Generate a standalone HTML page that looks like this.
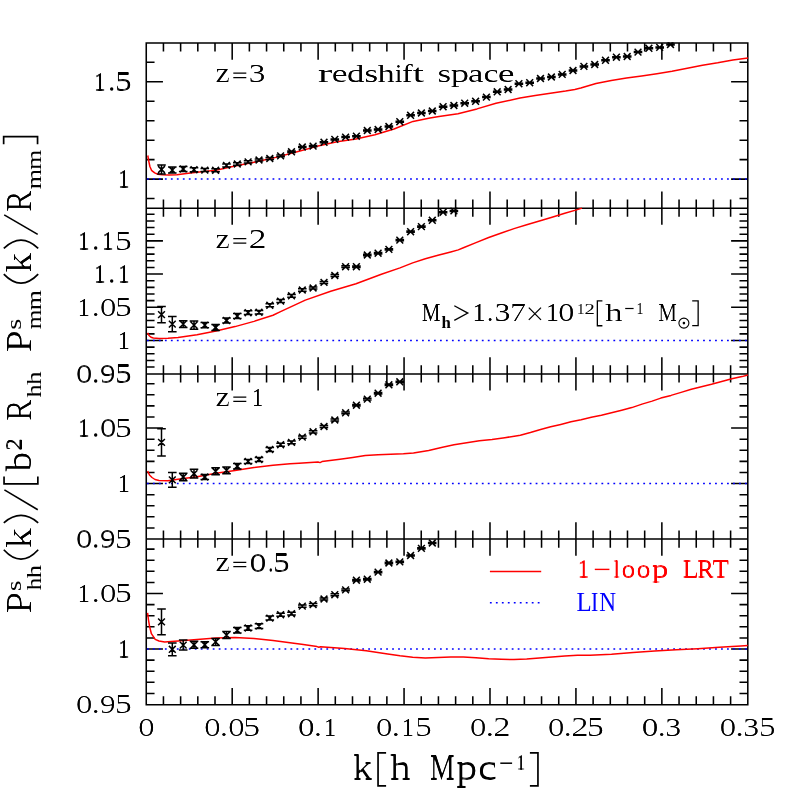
<!DOCTYPE html>
<html><head><meta charset="utf-8"><title>chart</title>
<style>html,body{margin:0;padding:0;background:#fff}svg{display:block;will-change:transform}</style>
</head><body>
<svg width="789" height="789" viewBox="0 0 789 789">
<rect x="0" y="0" width="789" height="789" fill="#fff"/>
<path d="M146.25 198.57h8.30M747.80 198.57h-8.30M146.25 179.10h16.70M747.80 179.10h-16.70M146.25 159.63h8.30M747.80 159.63h-8.30M146.25 140.16h8.30M747.80 140.16h-8.30M146.25 120.69h8.30M747.80 120.69h-8.30M146.25 101.22h8.30M747.80 101.22h-8.30M146.25 81.75h16.70M747.80 81.75h-16.70M146.25 62.28h8.30M747.80 62.28h-8.30M146.25 367.07h8.30M747.80 367.07h-8.30M146.25 360.43h8.30M747.80 360.43h-8.30M146.25 353.79h8.30M747.80 353.79h-8.30M146.25 347.14h8.30M747.80 347.14h-8.30M146.25 340.50h16.70M747.80 340.50h-16.70M146.25 333.86h8.30M747.80 333.86h-8.30M146.25 327.21h8.30M747.80 327.21h-8.30M146.25 320.57h8.30M747.80 320.57h-8.30M146.25 313.93h8.30M747.80 313.93h-8.30M146.25 307.28h16.70M747.80 307.28h-16.70M146.25 300.64h8.30M747.80 300.64h-8.30M146.25 294.00h8.30M747.80 294.00h-8.30M146.25 287.36h8.30M747.80 287.36h-8.30M146.25 280.71h8.30M747.80 280.71h-8.30M146.25 274.07h16.70M747.80 274.07h-16.70M146.25 267.43h8.30M747.80 267.43h-8.30M146.25 260.78h8.30M747.80 260.78h-8.30M146.25 254.14h8.30M747.80 254.14h-8.30M146.25 247.50h8.30M747.80 247.50h-8.30M146.25 240.85h16.70M747.80 240.85h-16.70M146.25 234.21h8.30M747.80 234.21h-8.30M146.25 227.57h8.30M747.80 227.57h-8.30M146.25 220.93h8.30M747.80 220.93h-8.30M146.25 214.28h8.30M747.80 214.28h-8.30M146.25 527.93h8.30M747.80 527.93h-8.30M146.25 516.84h8.30M747.80 516.84h-8.30M146.25 505.74h8.30M747.80 505.74h-8.30M146.25 494.65h8.30M747.80 494.65h-8.30M146.25 483.55h16.70M747.80 483.55h-16.70M146.25 472.45h8.30M747.80 472.45h-8.30M146.25 461.36h8.30M747.80 461.36h-8.30M146.25 450.26h8.30M747.80 450.26h-8.30M146.25 439.17h8.30M747.80 439.17h-8.30M146.25 428.07h16.70M747.80 428.07h-16.70M146.25 416.97h8.30M747.80 416.97h-8.30M146.25 405.88h8.30M747.80 405.88h-8.30M146.25 394.78h8.30M747.80 394.78h-8.30M146.25 383.69h8.30M747.80 383.69h-8.30M146.25 693.40h8.30M747.80 693.40h-8.30M146.25 682.30h8.30M747.80 682.30h-8.30M146.25 671.20h8.30M747.80 671.20h-8.30M146.25 660.10h8.30M747.80 660.10h-8.30M146.25 649.00h16.70M747.80 649.00h-16.70M146.25 637.90h8.30M747.80 637.90h-8.30M146.25 626.80h8.30M747.80 626.80h-8.30M146.25 615.70h8.30M747.80 615.70h-8.30M146.25 604.60h8.30M747.80 604.60h-8.30M146.25 593.50h16.70M747.80 593.50h-16.70M146.25 582.40h8.30M747.80 582.40h-8.30M146.25 571.30h8.30M747.80 571.30h-8.30M146.25 560.20h8.30M747.80 560.20h-8.30M146.25 549.10h8.30M747.80 549.10h-8.30M163.44 42.95v8.60M163.44 199.55v17.20M163.44 365.30v17.20M163.44 530.45v17.20M163.44 704.80v-8.60M180.62 42.95v8.60M180.62 199.55v17.20M180.62 365.30v17.20M180.62 530.45v17.20M180.62 704.80v-8.60M197.81 42.95v8.60M197.81 199.55v17.20M197.81 365.30v17.20M197.81 530.45v17.20M197.81 704.80v-8.60M215.00 42.95v8.60M215.00 199.55v17.20M215.00 365.30v17.20M215.00 530.45v17.20M215.00 704.80v-8.60M232.19 42.95v16.70M232.19 191.45v33.40M232.19 357.20v33.40M232.19 522.35v33.40M232.19 704.80v-16.70M249.37 42.95v8.60M249.37 199.55v17.20M249.37 365.30v17.20M249.37 530.45v17.20M249.37 704.80v-8.60M266.56 42.95v8.60M266.56 199.55v17.20M266.56 365.30v17.20M266.56 530.45v17.20M266.56 704.80v-8.60M283.75 42.95v8.60M283.75 199.55v17.20M283.75 365.30v17.20M283.75 530.45v17.20M283.75 704.80v-8.60M300.93 42.95v8.60M300.93 199.55v17.20M300.93 365.30v17.20M300.93 530.45v17.20M300.93 704.80v-8.60M318.12 42.95v16.70M318.12 191.45v33.40M318.12 357.20v33.40M318.12 522.35v33.40M318.12 704.80v-16.70M335.31 42.95v8.60M335.31 199.55v17.20M335.31 365.30v17.20M335.31 530.45v17.20M335.31 704.80v-8.60M352.50 42.95v8.60M352.50 199.55v17.20M352.50 365.30v17.20M352.50 530.45v17.20M352.50 704.80v-8.60M369.68 42.95v8.60M369.68 199.55v17.20M369.68 365.30v17.20M369.68 530.45v17.20M369.68 704.80v-8.60M386.87 42.95v8.60M386.87 199.55v17.20M386.87 365.30v17.20M386.87 530.45v17.20M386.87 704.80v-8.60M404.06 42.95v16.70M404.06 191.45v33.40M404.06 357.20v33.40M404.06 522.35v33.40M404.06 704.80v-16.70M421.24 42.95v8.60M421.24 199.55v17.20M421.24 365.30v17.20M421.24 530.45v17.20M421.24 704.80v-8.60M438.43 42.95v8.60M438.43 199.55v17.20M438.43 365.30v17.20M438.43 530.45v17.20M438.43 704.80v-8.60M455.62 42.95v8.60M455.62 199.55v17.20M455.62 365.30v17.20M455.62 530.45v17.20M455.62 704.80v-8.60M472.81 42.95v8.60M472.81 199.55v17.20M472.81 365.30v17.20M472.81 530.45v17.20M472.81 704.80v-8.60M489.99 42.95v16.70M489.99 191.45v33.40M489.99 357.20v33.40M489.99 522.35v33.40M489.99 704.80v-16.70M507.18 42.95v8.60M507.18 199.55v17.20M507.18 365.30v17.20M507.18 530.45v17.20M507.18 704.80v-8.60M524.37 42.95v8.60M524.37 199.55v17.20M524.37 365.30v17.20M524.37 530.45v17.20M524.37 704.80v-8.60M541.55 42.95v8.60M541.55 199.55v17.20M541.55 365.30v17.20M541.55 530.45v17.20M541.55 704.80v-8.60M558.74 42.95v8.60M558.74 199.55v17.20M558.74 365.30v17.20M558.74 530.45v17.20M558.74 704.80v-8.60M575.93 42.95v16.70M575.93 191.45v33.40M575.93 357.20v33.40M575.93 522.35v33.40M575.93 704.80v-16.70M593.12 42.95v8.60M593.12 199.55v17.20M593.12 365.30v17.20M593.12 530.45v17.20M593.12 704.80v-8.60M610.30 42.95v8.60M610.30 199.55v17.20M610.30 365.30v17.20M610.30 530.45v17.20M610.30 704.80v-8.60M627.49 42.95v8.60M627.49 199.55v17.20M627.49 365.30v17.20M627.49 530.45v17.20M627.49 704.80v-8.60M644.68 42.95v8.60M644.68 199.55v17.20M644.68 365.30v17.20M644.68 530.45v17.20M644.68 704.80v-8.60M661.86 42.95v16.70M661.86 191.45v33.40M661.86 357.20v33.40M661.86 522.35v33.40M661.86 704.80v-16.70M679.05 42.95v8.60M679.05 199.55v17.20M679.05 365.30v17.20M679.05 530.45v17.20M679.05 704.80v-8.60M696.24 42.95v8.60M696.24 199.55v17.20M696.24 365.30v17.20M696.24 530.45v17.20M696.24 704.80v-8.60M713.43 42.95v8.60M713.43 199.55v17.20M713.43 365.30v17.20M713.43 530.45v17.20M713.43 704.80v-8.60M730.61 42.95v8.60M730.61 199.55v17.20M730.61 365.30v17.20M730.61 530.45v17.20M730.61 704.80v-8.60" fill="none" stroke="#000" stroke-width="1.55"/>
<path d="M146.25 42.95H747.80V704.80H146.25Z M146.25 208.15H747.80 M146.25 373.90H747.80 M146.25 539.05H747.80" fill="none" stroke="#000" stroke-width="1.55"/>
<g>
<line x1="146.25" y1="179.10" x2="747.80" y2="179.10" stroke="#0000ff" stroke-width="1.5" stroke-dasharray="1.8 4.18" stroke-dashoffset="-0.7"/>
<path d="M147.8 155.5 L148.7 160.8 L149.9 166.5 L151.5 170.3 L154.7 172.9 L157.8 174.2 L162.3 174.8 L168.6 175.1 L176.9 174.8 L186.4 173.5 L197.0 172.2 L216.0 170.3 L235.0 166.1 L254.0 162.3 L273.0 158.1 L299.0 151.2 L318.0 146.1 L337.0 141.7 L356.0 139.0 L375.0 134.7 L394.0 129.0 L413.0 121.4 L430.0 118.1 L439.0 116.5 L458.0 113.7 L477.0 108.9 L496.0 103.2 L520.0 98.1 L535.2 95.6 L550.4 93.2 L565.6 91.1 L574.8 89.5 L580.8 88.0 L596.0 83.5 L611.3 80.4 L626.5 78.0 L641.7 75.9 L656.9 73.7 L672.0 71.3 L687.3 68.3 L702.5 65.2 L717.7 62.8 L732.9 60.0 L748.0 58.0" fill="none" stroke="#ff0000" stroke-width="1.5" stroke-linejoin="round"/>
<clipPath id="p0"><rect x="146.25" y="42.25" width="601.55" height="166.60"/></clipPath>
<path d="M158.1 166.1l6.8 6.8M158.1 172.9l6.8 -6.8M161.5 164.9V174.1M157.2 164.9h8.6M157.2 174.1h8.6M168.9 166.7l6.8 6.8M168.9 173.5l6.8 -6.8M172.3 167.1V173.1M168.0 167.1h8.6M168.0 173.1h8.6M179.8 165.6l6.8 6.8M179.8 172.4l6.8 -6.8M183.2 166.5V171.5M178.9 166.5h8.6M178.9 171.5h8.6M190.6 166.3l6.8 6.8M190.6 173.1l6.8 -6.8M194.0 167.7V171.7M189.7 167.7h8.6M189.7 171.7h8.6M201.4 166.7l6.8 6.8M201.4 173.5l6.8 -6.8M204.8 168.6V171.6M200.5 168.6h8.6M200.5 171.6h8.6M212.2 166.9l6.8 6.8M212.2 173.7l6.8 -6.8M215.7 168.8V171.8M211.3 168.8h8.6M211.3 171.8h8.6M223.1 162.0l6.8 6.8M223.1 168.8l6.8 -6.8M226.5 163.9V166.9M222.2 163.9h8.6M222.2 166.9h8.6M233.9 160.6l6.8 6.8M233.9 167.4l6.8 -6.8M237.3 162.7V165.3M233.0 162.7h8.6M233.0 165.3h8.6M244.7 158.5l6.8 6.8M244.7 165.3l6.8 -6.8M248.1 160.8V163.0M243.8 160.8h8.6M243.8 163.0h8.6M255.6 156.6l6.8 6.8M255.6 163.4l6.8 -6.8M259.0 159.0V161.0M254.7 159.0h8.6M254.7 161.0h8.6M266.4 155.1l6.8 6.8M266.4 161.9l6.8 -6.8M269.8 157.6V159.4M265.5 157.6h8.6M265.5 159.4h8.6M277.2 152.5l6.8 6.8M277.2 159.3l6.8 -6.8M280.6 155.1V156.7M276.3 155.1h8.6M276.3 156.7h8.6M288.1 148.4l6.8 6.8M288.1 155.2l6.8 -6.8M291.5 151.1V152.5M287.2 151.1h8.6M287.2 152.5h8.6M298.9 143.6l6.8 6.8M298.9 150.4l6.8 -6.8M302.3 146.4V147.6M298.0 146.4h8.6M298.0 147.6h8.6M309.7 142.7l6.8 6.8M309.7 149.5l6.8 -6.8M313.1 145.5V146.7M308.8 145.5h8.6M308.8 146.7h8.6M320.6 138.9l6.8 6.8M320.6 145.7l6.8 -6.8M323.9 141.8V142.8M319.6 141.8h8.6M319.6 142.8h8.6M331.4 136.0l6.8 6.8M331.4 142.8l6.8 -6.8M334.8 138.9V139.9M330.5 138.9h8.6M330.5 139.9h8.6M342.2 133.7l6.8 6.8M342.2 140.5l6.8 -6.8M345.6 136.6V137.6M341.3 136.6h8.6M341.3 137.6h8.6M353.0 132.8l6.8 6.8M353.0 139.6l6.8 -6.8M356.4 135.7V136.7M352.1 135.7h8.6M352.1 136.7h8.6M363.9 127.1l6.8 6.8M363.9 133.9l6.8 -6.8M367.3 130.0V131.0M363.0 130.0h8.6M363.0 131.0h8.6M374.7 126.1l6.8 6.8M374.7 132.9l6.8 -6.8M378.1 129.0V130.0M373.8 129.0h8.6M373.8 130.0h8.6M385.5 123.1l6.8 6.8M385.5 129.9l6.8 -6.8M388.9 126.0V127.0M384.6 126.0h8.6M384.6 127.0h8.6M396.4 118.3l6.8 6.8M396.4 125.1l6.8 -6.8M399.8 121.2V122.2M395.5 121.2h8.6M395.5 122.2h8.6M407.2 111.9l6.8 6.8M407.2 118.7l6.8 -6.8M410.6 114.8V115.8M406.3 114.8h8.6M406.3 115.8h8.6M418.0 109.6l6.8 6.8M418.0 116.4l6.8 -6.8M421.4 112.5V113.5M417.1 112.5h8.6M417.1 113.5h8.6M428.9 107.6l6.8 6.8M428.9 114.4l6.8 -6.8M432.2 110.5V111.5M427.9 110.5h8.6M427.9 111.5h8.6M439.7 103.3l6.8 6.8M439.7 110.1l6.8 -6.8M443.1 106.2V107.2M438.8 106.2h8.6M438.8 107.2h8.6M450.5 102.1l6.8 6.8M450.5 108.9l6.8 -6.8M453.9 105.0V106.0M449.6 105.0h8.6M449.6 106.0h8.6M461.3 99.8l6.8 6.8M461.3 106.6l6.8 -6.8M464.7 102.7V103.7M460.4 102.7h8.6M460.4 103.7h8.6M472.2 97.9l6.8 6.8M472.2 104.7l6.8 -6.8M475.6 100.8V101.8M471.3 100.8h8.6M471.3 101.8h8.6M483.0 93.7l6.8 6.8M483.0 100.5l6.8 -6.8M486.4 96.6V97.6M482.1 96.6h8.6M482.1 97.6h8.6M493.8 88.4l6.8 6.8M493.8 95.2l6.8 -6.8M497.2 91.3V92.3M492.9 91.3h8.6M492.9 92.3h8.6M504.7 86.1l6.8 6.8M504.7 92.9l6.8 -6.8M508.1 89.0V90.0M503.8 89.0h8.6M503.8 90.0h8.6M515.5 80.3l6.8 6.8M515.5 87.1l6.8 -6.8M518.9 83.2V84.2M514.6 83.2h8.6M514.6 84.2h8.6M526.3 79.3l6.8 6.8M526.3 86.1l6.8 -6.8M529.7 82.2V83.2M525.4 82.2h8.6M525.4 83.2h8.6M537.1 75.1l6.8 6.8M537.1 81.9l6.8 -6.8M540.5 78.0V79.0M536.2 78.0h8.6M536.2 79.0h8.6M548.0 73.6l6.8 6.8M548.0 80.4l6.8 -6.8M551.4 76.5V77.5M547.1 76.5h8.6M547.1 77.5h8.6M558.8 71.0l6.8 6.8M558.8 77.8l6.8 -6.8M562.2 73.9V74.9M557.9 73.9h8.6M557.9 74.9h8.6M569.6 67.1l6.8 6.8M569.6 73.9l6.8 -6.8M573.0 70.0V71.0M568.7 70.0h8.6M568.7 71.0h8.6M580.5 63.0l6.8 6.8M580.5 69.8l6.8 -6.8M583.9 65.9V66.9M579.6 65.9h8.6M579.6 66.9h8.6M591.3 61.1l6.8 6.8M591.3 67.9l6.8 -6.8M594.7 64.0V65.0M590.4 64.0h8.6M590.4 65.0h8.6M602.1 56.9l6.8 6.8M602.1 63.7l6.8 -6.8M605.5 59.8V60.8M601.2 59.8h8.6M601.2 60.8h8.6M613.0 53.8l6.8 6.8M613.0 60.6l6.8 -6.8M616.4 56.7V57.7M612.1 56.7h8.6M612.1 57.7h8.6M623.8 53.1l6.8 6.8M623.8 59.9l6.8 -6.8M627.2 56.0V57.0M622.9 56.0h8.6M622.9 57.0h8.6M634.6 48.7l6.8 6.8M634.6 55.5l6.8 -6.8M638.0 51.6V52.6M633.7 51.6h8.6M633.7 52.6h8.6M645.5 44.9l6.8 6.8M645.5 51.7l6.8 -6.8M648.9 47.8V48.8M644.6 47.8h8.6M644.6 48.8h8.6M656.3 44.0l6.8 6.8M656.3 50.8l6.8 -6.8M659.7 46.9V47.9M655.4 46.9h8.6M655.4 47.9h8.6M667.1 41.1l6.8 6.8M667.1 47.9l6.8 -6.8M670.5 44.0V45.0M666.2 44.0h8.6M666.2 45.0h8.6" fill="none" stroke="#000" stroke-width="1.5" clip-path="url(#p0)"/>
</g>
<g>
<line x1="146.25" y1="340.50" x2="747.80" y2="340.50" stroke="#0000ff" stroke-width="1.5" stroke-dasharray="1.8 4.18" stroke-dashoffset="-0.7"/>
<path d="M147.6 332.9 L149.0 335.5 L151.0 337.2 L153.3 338.0 L159.0 338.6 L168.0 338.3 L178.0 337.4 L197.0 334.8 L216.0 331.0 L235.0 326.6 L254.0 321.4 L273.0 315.2 L280.0 311.9 L305.3 300.1 L330.7 291.3 L356.0 283.7 L381.4 274.3 L400.0 267.9 L412.7 262.9 L425.3 258.8 L438.0 255.3 L450.7 252.0 L458.3 249.9 L463.4 247.7 L476.0 242.6 L488.7 237.5 L501.4 233.0 L514.0 228.6 L526.7 224.8 L539.4 221.0 L552.0 217.2 L564.8 213.2 L577.4 209.6 L582.0 208.1" fill="none" stroke="#ff0000" stroke-width="1.5" stroke-linejoin="round"/>
<clipPath id="p1"><rect x="146.25" y="207.45" width="601.55" height="167.15"/></clipPath>
<path d="M158.1 311.2l6.8 6.8M158.1 318.0l6.8 -6.8M161.5 306.4V322.8M157.2 306.4h8.6M157.2 322.8h8.6M168.9 320.7l6.8 6.8M168.9 327.5l6.8 -6.8M172.3 316.5V331.7M168.0 316.5h8.6M168.0 331.7h8.6M179.8 320.7l6.8 6.8M179.8 327.5l6.8 -6.8M183.2 320.7V327.5M178.9 320.7h8.6M178.9 327.5h8.6M190.6 321.7l6.8 6.8M190.6 328.5l6.8 -6.8M194.0 320.9V329.3M189.7 320.9h8.6M189.7 329.3h8.6M201.4 321.7l6.8 6.8M201.4 328.5l6.8 -6.8M204.8 322.4V327.8M200.5 322.4h8.6M200.5 327.8h8.6M212.2 324.1l6.8 6.8M212.2 330.9l6.8 -6.8M215.7 324.5V330.5M211.3 324.5h8.6M211.3 330.5h8.6M223.1 317.1l6.8 6.8M223.1 323.9l6.8 -6.8M226.5 318.0V323.0M222.2 318.0h8.6M222.2 323.0h8.6M233.9 312.7l6.8 6.8M233.9 319.5l6.8 -6.8M237.3 313.6V318.6M233.0 313.6h8.6M233.0 318.6h8.6M244.7 309.3l6.8 6.8M244.7 316.1l6.8 -6.8M248.1 310.8V314.6M243.8 310.8h8.6M243.8 314.6h8.6M255.6 308.9l6.8 6.8M255.6 315.7l6.8 -6.8M259.0 310.6V314.0M254.7 310.6h8.6M254.7 314.0h8.6M266.4 301.9l6.8 6.8M266.4 308.7l6.8 -6.8M269.8 303.8V306.8M265.5 303.8h8.6M265.5 306.8h8.6M277.2 297.7l6.8 6.8M277.2 304.5l6.8 -6.8M280.6 299.6V302.6M276.3 299.6h8.6M276.3 302.6h8.6M288.1 292.4l6.8 6.8M288.1 299.2l6.8 -6.8M291.5 294.4V297.2M287.2 294.4h8.6M287.2 297.2h8.6M298.9 286.6l6.8 6.8M298.9 293.4l6.8 -6.8M302.3 288.8V291.2M298.0 288.8h8.6M298.0 291.2h8.6M309.7 284.6l6.8 6.8M309.7 291.4l6.8 -6.8M313.1 286.9V289.1M308.8 286.9h8.6M308.8 289.1h8.6M320.6 279.0l6.8 6.8M320.6 285.8l6.8 -6.8M323.9 281.4V283.4M319.6 281.4h8.6M319.6 283.4h8.6M331.4 272.1l6.8 6.8M331.4 278.9l6.8 -6.8M334.8 274.5V276.5M330.5 274.5h8.6M330.5 276.5h8.6M342.2 263.3l6.8 6.8M342.2 270.1l6.8 -6.8M345.6 265.8V267.6M341.3 265.8h8.6M341.3 267.6h8.6M353.0 263.3l6.8 6.8M353.0 270.1l6.8 -6.8M356.4 265.9V267.5M352.1 265.9h8.6M352.1 267.5h8.6M363.9 251.6l6.8 6.8M363.9 258.4l6.8 -6.8M367.3 254.2V255.8M363.0 254.2h8.6M363.0 255.8h8.6M374.7 249.8l6.8 6.8M374.7 256.6l6.8 -6.8M378.1 252.5V253.9M373.8 252.5h8.6M373.8 253.9h8.6M385.5 246.0l6.8 6.8M385.5 252.8l6.8 -6.8M388.9 248.7V250.1M384.6 248.7h8.6M384.6 250.1h8.6M396.4 236.7l6.8 6.8M396.4 243.5l6.8 -6.8M399.8 239.5V240.7M395.5 239.5h8.6M395.5 240.7h8.6M407.2 228.3l6.8 6.8M407.2 235.1l6.8 -6.8M410.6 231.1V232.3M406.3 231.1h8.6M406.3 232.3h8.6M418.0 223.2l6.8 6.8M418.0 230.0l6.8 -6.8M421.4 226.0V227.2M417.1 226.0h8.6M417.1 227.2h8.6M428.9 216.9l6.8 6.8M428.9 223.7l6.8 -6.8M432.2 219.8V220.8M427.9 219.8h8.6M427.9 220.8h8.6M439.7 208.8l6.8 6.8M439.7 215.6l6.8 -6.8M443.1 211.7V212.7M438.8 211.7h8.6M438.8 212.7h8.6M450.5 207.5l6.8 6.8M450.5 214.3l6.8 -6.8M453.9 210.4V211.4M449.6 210.4h8.6M449.6 211.4h8.6" fill="none" stroke="#000" stroke-width="1.5" clip-path="url(#p1)"/>
</g>
<g>
<line x1="146.25" y1="483.55" x2="747.80" y2="483.55" stroke="#0000ff" stroke-width="1.5" stroke-dasharray="1.8 4.18" stroke-dashoffset="-0.7"/>
<path d="M147.6 471.0 L149.5 475.0 L152.0 477.5 L155.0 479.5 L159.0 480.5 L168.0 480.8 L178.0 479.3 L197.0 476.7 L216.0 473.2 L235.0 470.4 L254.0 467.5 L273.0 465.2 L290.0 463.7 L299.0 463.2 L318.0 462.0 L320.0 462.6 L322.0 461.6 L340.0 459.3 L352.7 457.5 L365.3 455.5 L378.0 454.7 L390.7 454.2 L403.4 453.7 L413.5 453.0 L428.7 450.4 L441.4 447.4 L454.0 444.8 L466.7 442.8 L479.4 440.8 L492.0 439.5 L504.8 437.7 L517.4 435.7 L520.3 435.2 L530.4 432.5 L540.6 429.5 L550.7 426.8 L560.8 424.4 L571.0 421.8 L581.1 419.7 L591.3 417.3 L601.4 415.3 L611.5 412.8 L621.7 410.2 L631.8 407.6 L642.0 404.1 L652.1 401.1 L660.8 398.1 L671.0 395.4 L681.1 392.4 L691.3 389.3 L701.4 386.7 L711.5 384.3 L721.7 381.6 L731.8 378.8 L742.0 376.6 L747.8 375.0" fill="none" stroke="#ff0000" stroke-width="1.5" stroke-linejoin="round"/>
<clipPath id="p2"><rect x="146.25" y="373.20" width="601.55" height="166.55"/></clipPath>
<path d="M158.1 439.0l6.8 6.8M158.1 445.8l6.8 -6.8M161.5 428.7V456.1M157.2 428.7h8.6M157.2 456.1h8.6M168.9 476.5l6.8 6.8M168.9 483.3l6.8 -6.8M172.3 472.6V487.2M168.0 472.6h8.6M168.0 487.2h8.6M179.8 473.6l6.8 6.8M179.8 480.4l6.8 -6.8M183.2 473.2V480.8M178.9 473.2h8.6M178.9 480.8h8.6M190.6 470.3l6.8 6.8M190.6 477.1l6.8 -6.8M194.0 469.3V478.1M189.7 469.3h8.6M189.7 478.1h8.6M201.4 473.6l6.8 6.8M201.4 480.4l6.8 -6.8M204.8 474.5V479.5M200.5 474.5h8.6M200.5 479.5h8.6M212.2 467.9l6.8 6.8M212.2 474.7l6.8 -6.8M215.7 467.8V474.8M211.3 467.8h8.6M211.3 474.8h8.6M223.1 467.0l6.8 6.8M223.1 473.8l6.8 -6.8M226.5 467.1V473.7M222.2 467.1h8.6M222.2 473.7h8.6M233.9 462.8l6.8 6.8M233.9 469.6l6.8 -6.8M237.3 463.4V469.0M233.0 463.4h8.6M233.0 469.0h8.6M244.7 458.0l6.8 6.8M244.7 464.8l6.8 -6.8M248.1 459.4V463.4M243.8 459.4h8.6M243.8 463.4h8.6M255.6 456.1l6.8 6.8M255.6 462.9l6.8 -6.8M259.0 457.5V461.5M254.7 457.5h8.6M254.7 461.5h8.6M266.4 446.1l6.8 6.8M266.4 452.9l6.8 -6.8M269.8 447.5V451.5M265.5 447.5h8.6M265.5 451.5h8.6M277.2 441.3l6.8 6.8M277.2 448.1l6.8 -6.8M280.6 443.2V446.2M276.3 443.2h8.6M276.3 446.2h8.6M288.1 439.0l6.8 6.8M288.1 445.8l6.8 -6.8M291.5 441.0V443.8M287.2 441.0h8.6M287.2 443.8h8.6M298.9 433.7l6.8 6.8M298.9 440.5l6.8 -6.8M302.3 435.9V438.3M298.0 435.9h8.6M298.0 438.3h8.6M309.7 428.4l6.8 6.8M309.7 435.2l6.8 -6.8M313.1 430.7V432.9M308.8 430.7h8.6M308.8 432.9h8.6M320.6 423.1l6.8 6.8M320.6 429.9l6.8 -6.8M323.9 425.5V427.5M319.6 425.5h8.6M319.6 427.5h8.6M331.4 416.6l6.8 6.8M331.4 423.4l6.8 -6.8M334.8 419.0V421.0M330.5 419.0h8.6M330.5 421.0h8.6M342.2 409.4l6.8 6.8M342.2 416.2l6.8 -6.8M345.6 411.9V413.7M341.3 411.9h8.6M341.3 413.7h8.6M353.0 401.8l6.8 6.8M353.0 408.6l6.8 -6.8M356.4 404.4V406.0M352.1 404.4h8.6M352.1 406.0h8.6M363.9 395.7l6.8 6.8M363.9 402.5l6.8 -6.8M367.3 398.3V399.9M363.0 398.3h8.6M363.0 399.9h8.6M374.7 389.8l6.8 6.8M374.7 396.6l6.8 -6.8M378.1 392.5V393.9M373.8 392.5h8.6M373.8 393.9h8.6M385.5 381.4l6.8 6.8M385.5 388.2l6.8 -6.8M388.9 384.1V385.5M384.6 384.1h8.6M384.6 385.5h8.6M396.4 378.4l6.8 6.8M396.4 385.2l6.8 -6.8M399.8 381.2V382.4M395.5 381.2h8.6M395.5 382.4h8.6" fill="none" stroke="#000" stroke-width="1.5" clip-path="url(#p2)"/>
</g>
<g>
<line x1="146.25" y1="649.00" x2="747.80" y2="649.00" stroke="#0000ff" stroke-width="1.5" stroke-dasharray="1.8 4.18" stroke-dashoffset="-0.7"/>
<path d="M147.6 612.8 L148.5 620.0 L149.5 626.1 L151.4 633.7 L155.2 639.4 L159.0 641.0 L164.7 641.9 L178.0 641.0 L197.0 639.4 L216.0 637.9 L235.0 637.5 L254.0 638.5 L273.0 640.4 L290.0 642.7 L301.5 644.2 L317.0 646.6 L318.8 647.2 L320.5 646.7 L344.6 648.6 L366.2 650.7 L387.7 654.0 L400.0 655.8 L412.7 657.3 L425.3 658.1 L438.0 657.6 L450.7 657.1 L463.4 657.1 L476.0 657.8 L488.7 658.8 L501.4 659.3 L514.0 659.6 L526.7 659.1 L539.4 658.1 L552.0 657.1 L564.8 656.0 L577.4 655.3 L590.0 655.3 L611.5 654.3 L633.1 652.6 L654.6 651.1 L676.2 649.8 L697.7 648.7 L719.3 647.3 L740.8 645.9 L747.8 645.4" fill="none" stroke="#ff0000" stroke-width="1.5" stroke-linejoin="round"/>
<clipPath id="p3"><rect x="146.25" y="538.35" width="601.55" height="167.15"/></clipPath>
<path d="M158.1 618.5l6.8 6.8M158.1 625.3l6.8 -6.8M161.5 609.1V634.7M157.2 609.1h8.6M157.2 634.7h8.6M168.9 645.9l6.8 6.8M168.9 652.7l6.8 -6.8M172.3 642.9V655.7M168.0 642.9h8.6M168.0 655.7h8.6M179.8 641.7l6.8 6.8M179.8 648.5l6.8 -6.8M183.2 640.1V650.1M178.9 640.1h8.6M178.9 650.1h8.6M190.6 641.4l6.8 6.8M190.6 648.2l6.8 -6.8M194.0 641.3V648.3M189.7 641.3h8.6M189.7 648.3h8.6M201.4 641.4l6.8 6.8M201.4 648.2l6.8 -6.8M204.8 641.8V647.8M200.5 641.8h8.6M200.5 647.8h8.6M212.2 638.5l6.8 6.8M212.2 645.3l6.8 -6.8M215.7 638.4V645.4M211.3 638.4h8.6M211.3 645.4h8.6M223.1 631.7l6.8 6.8M223.1 638.5l6.8 -6.8M226.5 631.6V638.6M222.2 631.6h8.6M222.2 638.6h8.6M233.9 626.9l6.8 6.8M233.9 633.7l6.8 -6.8M237.3 627.5V633.1M233.0 627.5h8.6M233.0 633.1h8.6M244.7 624.6l6.8 6.8M244.7 631.4l6.8 -6.8M248.1 625.7V630.3M243.8 625.7h8.6M243.8 630.3h8.6M255.6 622.7l6.8 6.8M255.6 629.5l6.8 -6.8M259.0 623.8V628.4M254.7 623.8h8.6M254.7 628.4h8.6M266.4 614.7l6.8 6.8M266.4 621.5l6.8 -6.8M269.8 616.1V620.1M265.5 616.1h8.6M265.5 620.1h8.6M277.2 611.3l6.8 6.8M277.2 618.1l6.8 -6.8M280.6 613.2V616.2M276.3 613.2h8.6M276.3 616.2h8.6M288.1 610.3l6.8 6.8M288.1 617.1l6.8 -6.8M291.5 612.3V615.1M287.2 612.3h8.6M287.2 615.1h8.6M298.9 602.7l6.8 6.8M298.9 609.5l6.8 -6.8M302.3 604.9V607.3M298.0 604.9h8.6M298.0 607.3h8.6M309.7 601.2l6.8 6.8M309.7 608.0l6.8 -6.8M313.1 603.5V605.7M308.8 603.5h8.6M308.8 605.7h8.6M320.6 595.6l6.8 6.8M320.6 602.4l6.8 -6.8M323.9 598.0V600.0M319.6 598.0h8.6M319.6 600.0h8.6M331.4 591.3l6.8 6.8M331.4 598.1l6.8 -6.8M334.8 593.7V595.7M330.5 593.7h8.6M330.5 595.7h8.6M342.2 586.5l6.8 6.8M342.2 593.3l6.8 -6.8M345.6 589.0V590.8M341.3 589.0h8.6M341.3 590.8h8.6M353.0 576.8l6.8 6.8M353.0 583.6l6.8 -6.8M356.4 579.4V581.0M352.1 579.4h8.6M352.1 581.0h8.6M363.9 575.8l6.8 6.8M363.9 582.6l6.8 -6.8M367.3 578.4V580.0M363.0 578.4h8.6M363.0 580.0h8.6M374.7 568.7l6.8 6.8M374.7 575.5l6.8 -6.8M378.1 571.4V572.8M373.8 571.4h8.6M373.8 572.8h8.6M385.5 559.6l6.8 6.8M385.5 566.4l6.8 -6.8M388.9 562.3V563.7M384.6 562.3h8.6M384.6 563.7h8.6M396.4 558.5l6.8 6.8M396.4 565.3l6.8 -6.8M399.8 561.3V562.5M395.5 561.3h8.6M395.5 562.5h8.6M407.2 552.1l6.8 6.8M407.2 558.9l6.8 -6.8M410.6 554.9V556.1M406.3 554.9h8.6M406.3 556.1h8.6M418.0 545.0l6.8 6.8M418.0 551.8l6.8 -6.8M421.4 547.8V549.0M417.1 547.8h8.6M417.1 549.0h8.6M428.9 539.6l6.8 6.8M428.9 546.4l6.8 -6.8M432.2 542.5V543.5M427.9 542.5h8.6M427.9 543.5h8.6" fill="none" stroke="#000" stroke-width="1.5" clip-path="url(#p3)"/>
</g>
<clipPath id="c1"><text transform="translate(215.52 82.20) scale(0.3267 0.2702)" font-family="Liberation Serif" font-size="100">z</text></clipPath>
<g clip-path="url(#c1)" fill="#000"><text transform="translate(215.21 82.20) scale(0.3267 0.2702)" font-family="Liberation Serif" font-size="100">z</text></g>
<path d="M233.3 73.20H246.3M233.3 77.60H246.3" stroke="#000" stroke-width="1.25"/>
<clipPath id="c2"><text transform="translate(248.98 82.40) scale(0.3389 0.2597)" font-family="Liberation Serif" font-size="100">3</text><text transform="translate(248.98 81.89) scale(0.3389 0.2597)" font-family="Liberation Serif" font-size="100">3</text></clipPath>
<g clip-path="url(#c2)" fill="#000"><text transform="translate(248.28 82.40) scale(0.3389 0.2597)" font-family="Liberation Serif" font-size="100">3</text><text transform="translate(248.28 81.89) scale(0.3389 0.2597)" font-family="Liberation Serif" font-size="100">3</text></g>
<clipPath id="c3"><text transform="translate(215.52 247.70) scale(0.3267 0.2702)" font-family="Liberation Serif" font-size="100">z</text></clipPath>
<g clip-path="url(#c3)" fill="#000"><text transform="translate(215.21 247.70) scale(0.3267 0.2702)" font-family="Liberation Serif" font-size="100">z</text></g>
<path d="M233.3 238.70H246.3M233.3 243.10H246.3" stroke="#000" stroke-width="1.25"/>
<clipPath id="c4"><text transform="translate(249.02 247.90) scale(0.3592 0.2628)" font-family="Liberation Serif" font-size="100">2</text><text transform="translate(249.02 247.70) scale(0.3592 0.2628)" font-family="Liberation Serif" font-size="100">2</text></clipPath>
<g clip-path="url(#c4)" fill="#000"><text transform="translate(248.32 247.90) scale(0.3592 0.2628)" font-family="Liberation Serif" font-size="100">2</text><text transform="translate(248.32 247.70) scale(0.3592 0.2628)" font-family="Liberation Serif" font-size="100">2</text></g>
<clipPath id="c5"><text transform="translate(215.52 406.00) scale(0.3267 0.2702)" font-family="Liberation Serif" font-size="100">z</text></clipPath>
<g clip-path="url(#c5)" fill="#000"><text transform="translate(215.21 406.00) scale(0.3267 0.2702)" font-family="Liberation Serif" font-size="100">z</text></g>
<path d="M233.3 397.00H246.3M233.3 401.40H246.3" stroke="#000" stroke-width="1.25"/>
<clipPath id="c6"><text transform="translate(252.02 406.20) scale(0.2258 0.2597)" font-family="Liberation Serif" font-size="100">1</text><text transform="translate(252.02 405.69) scale(0.2258 0.2597)" font-family="Liberation Serif" font-size="100">1</text></clipPath>
<g clip-path="url(#c6)" fill="#000"><text transform="translate(251.77 406.20) scale(0.2258 0.2597)" font-family="Liberation Serif" font-size="100">1</text><text transform="translate(251.77 405.69) scale(0.2258 0.2597)" font-family="Liberation Serif" font-size="100">1</text></g>
<clipPath id="c7"><text transform="translate(215.52 571.30) scale(0.3267 0.2702)" font-family="Liberation Serif" font-size="100">z</text></clipPath>
<g clip-path="url(#c7)" fill="#000"><text transform="translate(215.21 571.30) scale(0.3267 0.2702)" font-family="Liberation Serif" font-size="100">z</text></g>
<path d="M233.3 562.30H246.3M233.3 566.70H246.3" stroke="#000" stroke-width="1.25"/>
<clipPath id="c8"><text transform="translate(249.69 571.50) scale(0.3445 0.2597)" font-family="Liberation Serif" font-size="100">0</text><text transform="translate(249.69 570.99) scale(0.3445 0.2597)" font-family="Liberation Serif" font-size="100">0</text></clipPath>
<g clip-path="url(#c8)" fill="#000"><text transform="translate(248.99 571.50) scale(0.3445 0.2597)" font-family="Liberation Serif" font-size="100">0</text><text transform="translate(248.99 570.99) scale(0.3445 0.2597)" font-family="Liberation Serif" font-size="100">0</text></g>
<clipPath id="c9"><text transform="translate(267.93 571.50) scale(0.2539 0.2597)" font-family="Liberation Serif" font-size="100">.</text><text transform="translate(267.93 570.99) scale(0.2539 0.2597)" font-family="Liberation Serif" font-size="100">.</text></clipPath>
<g clip-path="url(#c9)" fill="#000"><text transform="translate(267.23 571.50) scale(0.2539 0.2597)" font-family="Liberation Serif" font-size="100">.</text><text transform="translate(267.23 570.99) scale(0.2539 0.2597)" font-family="Liberation Serif" font-size="100">.</text></g>
<clipPath id="c10"><text transform="translate(273.32 571.50) scale(0.3401 0.2628)" font-family="Liberation Serif" font-size="100">5</text><text transform="translate(273.32 571.30) scale(0.3401 0.2628)" font-family="Liberation Serif" font-size="100">5</text></clipPath>
<g clip-path="url(#c10)" fill="#000"><text transform="translate(272.62 571.50) scale(0.3401 0.2628)" font-family="Liberation Serif" font-size="100">5</text><text transform="translate(272.62 571.30) scale(0.3401 0.2628)" font-family="Liberation Serif" font-size="100">5</text></g>
<clipPath id="c11"><text transform="translate(317.90 82.10) scale(0.4471 0.2599)" font-family="Liberation Serif" font-size="100">r</text><text transform="translate(317.90 81.59) scale(0.4471 0.2599)" font-family="Liberation Serif" font-size="100">r</text></clipPath>
<g clip-path="url(#c11)" fill="#000"><text transform="translate(317.30 82.10) scale(0.4471 0.2599)" font-family="Liberation Serif" font-size="100">r</text><text transform="translate(317.30 81.59) scale(0.4471 0.2599)" font-family="Liberation Serif" font-size="100">r</text></g>
<clipPath id="c12"><text transform="translate(331.88 82.10) scale(0.3647 0.2599)" font-family="Liberation Serif" font-size="100">e</text><text transform="translate(331.88 81.59) scale(0.3647 0.2599)" font-family="Liberation Serif" font-size="100">e</text></clipPath>
<g clip-path="url(#c12)" fill="#000"><text transform="translate(331.28 82.10) scale(0.3647 0.2599)" font-family="Liberation Serif" font-size="100">e</text><text transform="translate(331.28 81.59) scale(0.3647 0.2599)" font-family="Liberation Serif" font-size="100">e</text></g>
<clipPath id="c13"><text transform="translate(347.24 82.10) scale(0.3498 0.2599)" font-family="Liberation Serif" font-size="100">d</text><text transform="translate(347.24 81.59) scale(0.3498 0.2599)" font-family="Liberation Serif" font-size="100">d</text></clipPath>
<g clip-path="url(#c13)" fill="#000"><text transform="translate(346.64 82.10) scale(0.3498 0.2599)" font-family="Liberation Serif" font-size="100">d</text><text transform="translate(346.64 81.59) scale(0.3498 0.2599)" font-family="Liberation Serif" font-size="100">d</text></g>
<clipPath id="c14"><text transform="translate(364.53 82.10) scale(0.3590 0.2599)" font-family="Liberation Serif" font-size="100">s</text><text transform="translate(364.53 81.59) scale(0.3590 0.2599)" font-family="Liberation Serif" font-size="100">s</text></clipPath>
<g clip-path="url(#c14)" fill="#000"><text transform="translate(363.93 82.10) scale(0.3590 0.2599)" font-family="Liberation Serif" font-size="100">s</text><text transform="translate(363.93 81.59) scale(0.3590 0.2599)" font-family="Liberation Serif" font-size="100">s</text></g>
<clipPath id="c15"><text transform="translate(377.86 82.10) scale(0.3459 0.2599)" font-family="Liberation Serif" font-size="100">h</text><text transform="translate(377.86 81.59) scale(0.3459 0.2599)" font-family="Liberation Serif" font-size="100">h</text></clipPath>
<g clip-path="url(#c15)" fill="#000"><text transform="translate(377.26 82.10) scale(0.3459 0.2599)" font-family="Liberation Serif" font-size="100">h</text><text transform="translate(377.26 81.59) scale(0.3459 0.2599)" font-family="Liberation Serif" font-size="100">h</text></g>
<clipPath id="c16"><text transform="translate(395.12 82.10) scale(0.2776 0.2599)" font-family="Liberation Serif" font-size="100">i</text><text transform="translate(395.12 81.59) scale(0.2776 0.2599)" font-family="Liberation Serif" font-size="100">i</text></clipPath>
<g clip-path="url(#c16)" fill="#000"><text transform="translate(394.52 82.10) scale(0.2776 0.2599)" font-family="Liberation Serif" font-size="100">i</text><text transform="translate(394.52 81.59) scale(0.2776 0.2599)" font-family="Liberation Serif" font-size="100">i</text></g>
<clipPath id="c17"><text transform="translate(401.98 82.10) scale(0.3309 0.2599)" font-family="Liberation Serif" font-size="100">f</text><text transform="translate(401.98 81.59) scale(0.3309 0.2599)" font-family="Liberation Serif" font-size="100">f</text></clipPath>
<g clip-path="url(#c17)" fill="#000"><text transform="translate(401.38 82.10) scale(0.3309 0.2599)" font-family="Liberation Serif" font-size="100">f</text><text transform="translate(401.38 81.59) scale(0.3309 0.2599)" font-family="Liberation Serif" font-size="100">f</text></g>
<clipPath id="c18"><text transform="translate(412.68 82.10) scale(0.4310 0.2599)" font-family="Liberation Serif" font-size="100">t</text><text transform="translate(412.68 81.59) scale(0.4310 0.2599)" font-family="Liberation Serif" font-size="100">t</text></clipPath>
<g clip-path="url(#c18)" fill="#000"><text transform="translate(412.08 82.10) scale(0.4310 0.2599)" font-family="Liberation Serif" font-size="100">t</text><text transform="translate(412.08 81.59) scale(0.4310 0.2599)" font-family="Liberation Serif" font-size="100">t</text></g>
<clipPath id="c19"><text transform="translate(437.64 82.10) scale(0.3558 0.2599)" font-family="Liberation Serif" font-size="100">s</text><text transform="translate(437.64 81.59) scale(0.3558 0.2599)" font-family="Liberation Serif" font-size="100">s</text></clipPath>
<g clip-path="url(#c19)" fill="#000"><text transform="translate(437.04 82.10) scale(0.3558 0.2599)" font-family="Liberation Serif" font-size="100">s</text><text transform="translate(437.04 81.59) scale(0.3558 0.2599)" font-family="Liberation Serif" font-size="100">s</text></g>
<clipPath id="c20"><text transform="translate(450.90 82.10) scale(0.3709 0.2599)" font-family="Liberation Serif" font-size="100">p</text><text transform="translate(450.90 81.59) scale(0.3709 0.2599)" font-family="Liberation Serif" font-size="100">p</text></clipPath>
<g clip-path="url(#c20)" fill="#000"><text transform="translate(450.30 82.10) scale(0.3709 0.2599)" font-family="Liberation Serif" font-size="100">p</text><text transform="translate(450.30 81.59) scale(0.3709 0.2599)" font-family="Liberation Serif" font-size="100">p</text></g>
<clipPath id="c21"><text transform="translate(468.28 82.10) scale(0.3468 0.2599)" font-family="Liberation Serif" font-size="100">a</text><text transform="translate(468.28 81.59) scale(0.3468 0.2599)" font-family="Liberation Serif" font-size="100">a</text></clipPath>
<g clip-path="url(#c21)" fill="#000"><text transform="translate(467.68 82.10) scale(0.3468 0.2599)" font-family="Liberation Serif" font-size="100">a</text><text transform="translate(467.68 81.59) scale(0.3468 0.2599)" font-family="Liberation Serif" font-size="100">a</text></g>
<clipPath id="c22"><text transform="translate(483.81 82.10) scale(0.3387 0.2599)" font-family="Liberation Serif" font-size="100">c</text><text transform="translate(483.81 81.59) scale(0.3387 0.2599)" font-family="Liberation Serif" font-size="100">c</text></clipPath>
<g clip-path="url(#c22)" fill="#000"><text transform="translate(483.21 82.10) scale(0.3387 0.2599)" font-family="Liberation Serif" font-size="100">c</text><text transform="translate(483.21 81.59) scale(0.3387 0.2599)" font-family="Liberation Serif" font-size="100">c</text></g>
<clipPath id="c23"><text transform="translate(498.01 82.10) scale(0.3810 0.2599)" font-family="Liberation Serif" font-size="100">e</text><text transform="translate(498.01 81.59) scale(0.3810 0.2599)" font-family="Liberation Serif" font-size="100">e</text></clipPath>
<g clip-path="url(#c23)" fill="#000"><text transform="translate(497.41 82.10) scale(0.3810 0.2599)" font-family="Liberation Serif" font-size="100">e</text><text transform="translate(497.41 81.59) scale(0.3810 0.2599)" font-family="Liberation Serif" font-size="100">e</text></g>
<clipPath id="c24"><text transform="translate(422.00 321.10) scale(0.2090 0.2550)" font-family="Liberation Serif" font-size="100">M</text><text transform="translate(422.00 320.60) scale(0.2090 0.2550)" font-family="Liberation Serif" font-size="100">M</text></clipPath>
<g clip-path="url(#c24)" fill="#000"><text transform="translate(421.72 321.10) scale(0.2090 0.2550)" font-family="Liberation Serif" font-size="100">M</text><text transform="translate(421.72 320.60) scale(0.2090 0.2550)" font-family="Liberation Serif" font-size="100">M</text></g>
<text transform="translate(441.58 328.30) scale(0.1686 0.1600)" font-family="Liberation Serif" font-size="100" font-weight="bold" fill="#000">h</text>
<path d="M454.3 305.8L467.8 313.1L454.3 320.4" fill="none" stroke="#000" stroke-width="1.3"/>
<clipPath id="c25"><text transform="translate(472.57 321.20) scale(0.2656 0.2539)" font-family="Liberation Serif" font-size="100">1</text><text transform="translate(472.57 320.70) scale(0.2656 0.2539)" font-family="Liberation Serif" font-size="100">1</text></clipPath>
<g clip-path="url(#c25)" fill="#000"><text transform="translate(472.32 321.20) scale(0.2656 0.2539)" font-family="Liberation Serif" font-size="100">1</text><text transform="translate(472.32 320.70) scale(0.2656 0.2539)" font-family="Liberation Serif" font-size="100">1</text></g>
<clipPath id="c26"><text transform="translate(487.11 321.20) scale(0.2708 0.2539)" font-family="Liberation Serif" font-size="100">.</text><text transform="translate(487.11 320.70) scale(0.2708 0.2539)" font-family="Liberation Serif" font-size="100">.</text></clipPath>
<g clip-path="url(#c26)" fill="#000"><text transform="translate(486.41 321.20) scale(0.2708 0.2539)" font-family="Liberation Serif" font-size="100">.</text><text transform="translate(486.41 320.70) scale(0.2708 0.2539)" font-family="Liberation Serif" font-size="100">.</text></g>
<clipPath id="c27"><text transform="translate(494.87 321.20) scale(0.3195 0.2539)" font-family="Liberation Serif" font-size="100">3</text><text transform="translate(494.87 320.70) scale(0.3195 0.2539)" font-family="Liberation Serif" font-size="100">3</text></clipPath>
<g clip-path="url(#c27)" fill="#000"><text transform="translate(494.17 321.20) scale(0.3195 0.2539)" font-family="Liberation Serif" font-size="100">3</text><text transform="translate(494.17 320.70) scale(0.3195 0.2539)" font-family="Liberation Serif" font-size="100">3</text></g>
<clipPath id="c28"><text transform="translate(510.50 321.20) scale(0.3183 0.2569)" font-family="Liberation Serif" font-size="100">7</text><text transform="translate(510.50 321.00) scale(0.3183 0.2569)" font-family="Liberation Serif" font-size="100">7</text></clipPath>
<g clip-path="url(#c28)" fill="#000"><text transform="translate(509.80 321.20) scale(0.3183 0.2569)" font-family="Liberation Serif" font-size="100">7</text><text transform="translate(509.80 321.00) scale(0.3183 0.2569)" font-family="Liberation Serif" font-size="100">7</text></g>
<clipPath id="c29"><text transform="translate(545.99 321.20) scale(0.2627 0.2539)" font-family="Liberation Serif" font-size="100">1</text><text transform="translate(545.99 320.70) scale(0.2627 0.2539)" font-family="Liberation Serif" font-size="100">1</text></clipPath>
<g clip-path="url(#c29)" fill="#000"><text transform="translate(545.74 321.20) scale(0.2627 0.2539)" font-family="Liberation Serif" font-size="100">1</text><text transform="translate(545.74 320.70) scale(0.2627 0.2539)" font-family="Liberation Serif" font-size="100">1</text></g>
<clipPath id="c30"><text transform="translate(558.55 321.20) scale(0.3280 0.2539)" font-family="Liberation Serif" font-size="100">0</text><text transform="translate(558.55 320.70) scale(0.3280 0.2539)" font-family="Liberation Serif" font-size="100">0</text></clipPath>
<g clip-path="url(#c30)" fill="#000"><text transform="translate(557.85 321.20) scale(0.3280 0.2539)" font-family="Liberation Serif" font-size="100">0</text><text transform="translate(557.85 320.70) scale(0.3280 0.2539)" font-family="Liberation Serif" font-size="100">0</text></g>
<path d="M528.8 307.6L541.0 319.9M528.8 319.9L541.0 307.6" fill="none" stroke="#000" stroke-width="1.3"/>
<text transform="translate(577.08 314.00) scale(0.1505 0.1538)" font-family="Liberation Serif" font-size="100" fill="#000">1</text>
<text transform="translate(584.39 314.00) scale(0.2070 0.1538)" font-family="Liberation Serif" font-size="100" fill="#000">2</text>
<path d="M602.40 300.95H597.35V325.75H602.40" fill="none" stroke="#000" stroke-width="1.30"/>
<clipPath id="c31"><text transform="translate(605.15 321.10) scale(0.3585 0.2550)" font-family="Liberation Serif" font-size="100">h</text><text transform="translate(605.15 320.60) scale(0.3585 0.2550)" font-family="Liberation Serif" font-size="100">h</text></clipPath>
<g clip-path="url(#c31)" fill="#000"><text transform="translate(604.55 321.10) scale(0.3585 0.2550)" font-family="Liberation Serif" font-size="100">h</text><text transform="translate(604.55 320.60) scale(0.3585 0.2550)" font-family="Liberation Serif" font-size="100">h</text></g>
<path d="M625.2 308.5H633.6" stroke="#000" stroke-width="1.2"/>
<text transform="translate(636.48 314.00) scale(0.1392 0.1568)" font-family="Liberation Serif" font-size="100" fill="#000">1</text>
<clipPath id="c32"><text transform="translate(658.39 321.10) scale(0.2103 0.2550)" font-family="Liberation Serif" font-size="100">M</text><text transform="translate(658.39 320.60) scale(0.2103 0.2550)" font-family="Liberation Serif" font-size="100">M</text></clipPath>
<g clip-path="url(#c32)" fill="#000"><text transform="translate(658.12 321.10) scale(0.2103 0.2550)" font-family="Liberation Serif" font-size="100">M</text><text transform="translate(658.12 320.60) scale(0.2103 0.2550)" font-family="Liberation Serif" font-size="100">M</text></g>
<circle cx="683.9" cy="323.1" r="5.0" fill="none" stroke="#000" stroke-width="1.1"/><circle cx="683.9" cy="323.1" r="1.3" fill="#000"/>
<path d="M692.20 300.95H698.15V325.55H692.20" fill="none" stroke="#000" stroke-width="1.30"/>
<path d="M489.9 571.4H541.2" stroke="#ff0000" stroke-width="1.5"/>
<path d="M489.9 602.7H541.2" stroke="#0000ff" stroke-width="1.5" stroke-dasharray="1.8 4.18"/>
<clipPath id="c33"><text transform="translate(577.49 577.70) scale(0.2400 0.2553)" font-family="Liberation Serif" font-size="100">1</text><text transform="translate(577.49 577.20) scale(0.2400 0.2553)" font-family="Liberation Serif" font-size="100">1</text></clipPath>
<g clip-path="url(#c33)" fill="#ff0000"><text transform="translate(577.24 577.70) scale(0.2400 0.2553)" font-family="Liberation Serif" font-size="100">1</text><text transform="translate(577.24 577.20) scale(0.2400 0.2553)" font-family="Liberation Serif" font-size="100">1</text></g>
<path d="M594.8 569.4H609.4" stroke="#ff0000" stroke-width="1.4"/>
<clipPath id="c34"><text transform="translate(613.31 577.70) scale(0.2460 0.2609)" font-family="Liberation Serif" font-size="100">l</text><text transform="translate(613.31 577.19) scale(0.2460 0.2609)" font-family="Liberation Serif" font-size="100">l</text></clipPath>
<g clip-path="url(#c34)" fill="#ff0000"><text transform="translate(613.16 577.70) scale(0.2460 0.2609)" font-family="Liberation Serif" font-size="100">l</text><text transform="translate(613.16 577.19) scale(0.2460 0.2609)" font-family="Liberation Serif" font-size="100">l</text></g>
<clipPath id="c35"><text transform="translate(621.66 577.70) scale(0.2725 0.2609)" font-family="Liberation Serif" font-size="100">o</text><text transform="translate(621.66 577.19) scale(0.2725 0.2609)" font-family="Liberation Serif" font-size="100">o</text></clipPath>
<g clip-path="url(#c35)" fill="#ff0000"><text transform="translate(621.51 577.70) scale(0.2725 0.2609)" font-family="Liberation Serif" font-size="100">o</text><text transform="translate(621.51 577.19) scale(0.2725 0.2609)" font-family="Liberation Serif" font-size="100">o</text></g>
<clipPath id="c36"><text transform="translate(636.64 577.70) scale(0.2772 0.2609)" font-family="Liberation Serif" font-size="100">o</text><text transform="translate(636.64 577.19) scale(0.2772 0.2609)" font-family="Liberation Serif" font-size="100">o</text></clipPath>
<g clip-path="url(#c36)" fill="#ff0000"><text transform="translate(636.49 577.70) scale(0.2772 0.2609)" font-family="Liberation Serif" font-size="100">o</text><text transform="translate(636.49 577.19) scale(0.2772 0.2609)" font-family="Liberation Serif" font-size="100">o</text></g>
<clipPath id="c37"><text transform="translate(651.97 577.70) scale(0.3316 0.2609)" font-family="Liberation Serif" font-size="100">p</text><text transform="translate(651.97 577.19) scale(0.3316 0.2609)" font-family="Liberation Serif" font-size="100">p</text></clipPath>
<g clip-path="url(#c37)" fill="#ff0000"><text transform="translate(651.82 577.70) scale(0.3316 0.2609)" font-family="Liberation Serif" font-size="100">p</text><text transform="translate(651.82 577.19) scale(0.3316 0.2609)" font-family="Liberation Serif" font-size="100">p</text></g>
<clipPath id="c38"><text transform="translate(682.75 577.70) scale(0.2615 0.2609)" font-family="Liberation Serif" font-size="100">L</text><text transform="translate(682.75 577.19) scale(0.2615 0.2609)" font-family="Liberation Serif" font-size="100">L</text></clipPath>
<g clip-path="url(#c38)" fill="#ff0000"><text transform="translate(682.60 577.70) scale(0.2615 0.2609)" font-family="Liberation Serif" font-size="100">L</text><text transform="translate(682.60 577.19) scale(0.2615 0.2609)" font-family="Liberation Serif" font-size="100">L</text></g>
<clipPath id="c39"><text transform="translate(697.29 577.70) scale(0.2474 0.2609)" font-family="Liberation Serif" font-size="100">R</text><text transform="translate(697.29 577.19) scale(0.2474 0.2609)" font-family="Liberation Serif" font-size="100">R</text></clipPath>
<g clip-path="url(#c39)" fill="#ff0000"><text transform="translate(697.14 577.70) scale(0.2474 0.2609)" font-family="Liberation Serif" font-size="100">R</text><text transform="translate(697.14 577.19) scale(0.2474 0.2609)" font-family="Liberation Serif" font-size="100">R</text></g>
<clipPath id="c40"><text transform="translate(712.72 577.70) scale(0.2664 0.2609)" font-family="Liberation Serif" font-size="100">T</text><text transform="translate(712.72 577.19) scale(0.2664 0.2609)" font-family="Liberation Serif" font-size="100">T</text></clipPath>
<g clip-path="url(#c40)" fill="#ff0000"><text transform="translate(712.57 577.70) scale(0.2664 0.2609)" font-family="Liberation Serif" font-size="100">T</text><text transform="translate(712.57 577.19) scale(0.2664 0.2609)" font-family="Liberation Serif" font-size="100">T</text></g>
<text transform="translate(576.48 610.80) scale(0.2491 0.2700)" font-family="Liberation Serif" font-size="100" fill="#0000ff">L</text>
<text transform="translate(590.91 610.80) scale(0.2178 0.2700)" font-family="Liberation Serif" font-size="100" fill="#0000ff">I</text>
<text transform="translate(599.33 610.80) scale(0.2327 0.2700)" font-family="Liberation Serif" font-size="100" fill="#0000ff">N</text>
<clipPath id="c41"><text transform="translate(353.14 780.00) scale(0.3967 0.3531)" font-family="Liberation Serif" font-size="100">k</text><text transform="translate(353.14 779.31) scale(0.3967 0.3531)" font-family="Liberation Serif" font-size="100">k</text></clipPath>
<g clip-path="url(#c41)" fill="#000"><text transform="translate(352.06 780.00) scale(0.3967 0.3531)" font-family="Liberation Serif" font-size="100">k</text><text transform="translate(352.06 779.31) scale(0.3967 0.3531)" font-family="Liberation Serif" font-size="100">k</text></g>
<clipPath id="c42"><text transform="translate(390.18 780.00) scale(0.4272 0.3531)" font-family="Liberation Serif" font-size="100">h</text><text transform="translate(390.18 779.31) scale(0.4272 0.3531)" font-family="Liberation Serif" font-size="100">h</text></clipPath>
<g clip-path="url(#c42)" fill="#000"><text transform="translate(389.10 780.00) scale(0.4272 0.3531)" font-family="Liberation Serif" font-size="100">h</text><text transform="translate(389.10 779.31) scale(0.4272 0.3531)" font-family="Liberation Serif" font-size="100">h</text></g>
<clipPath id="c43"><text transform="translate(430.20 780.00) scale(0.2777 0.3531)" font-family="Liberation Serif" font-size="100">M</text><text transform="translate(430.20 779.31) scale(0.2777 0.3531)" font-family="Liberation Serif" font-size="100">M</text></clipPath>
<g clip-path="url(#c43)" fill="#000"><text transform="translate(429.82 780.00) scale(0.2777 0.3531)" font-family="Liberation Serif" font-size="100">M</text><text transform="translate(429.82 779.31) scale(0.2777 0.3531)" font-family="Liberation Serif" font-size="100">M</text></g>
<clipPath id="c44"><text transform="translate(456.61 780.00) scale(0.4289 0.3531)" font-family="Liberation Serif" font-size="100">p</text><text transform="translate(456.61 779.31) scale(0.4289 0.3531)" font-family="Liberation Serif" font-size="100">p</text></clipPath>
<g clip-path="url(#c44)" fill="#000"><text transform="translate(455.53 780.00) scale(0.4289 0.3531)" font-family="Liberation Serif" font-size="100">p</text><text transform="translate(455.53 779.31) scale(0.4289 0.3531)" font-family="Liberation Serif" font-size="100">p</text></g>
<clipPath id="c45"><text transform="translate(478.33 780.00) scale(0.4395 0.3531)" font-family="Liberation Serif" font-size="100">c</text><text transform="translate(478.33 779.31) scale(0.4395 0.3531)" font-family="Liberation Serif" font-size="100">c</text></clipPath>
<g clip-path="url(#c45)" fill="#000"><text transform="translate(477.25 780.00) scale(0.4395 0.3531)" font-family="Liberation Serif" font-size="100">c</text><text transform="translate(477.25 779.31) scale(0.4395 0.3531)" font-family="Liberation Serif" font-size="100">c</text></g>
<path d="M386.10 752.95H378.05V785.95H386.10" fill="none" stroke="#000" stroke-width="1.70"/>
<path d="M529.90 752.95H537.95V785.95H529.90" fill="none" stroke="#000" stroke-width="1.70"/>
<path d="M500.3 763.2H512.1" stroke="#000" stroke-width="1.5"/>
<clipPath id="c46"><text transform="translate(516.14 769.70) scale(0.1889 0.2147)" font-family="Liberation Serif" font-size="100">1</text><text transform="translate(516.14 769.28) scale(0.1889 0.2147)" font-family="Liberation Serif" font-size="100">1</text></clipPath>
<g clip-path="url(#c46)" fill="#000"><text transform="translate(515.89 769.70) scale(0.1889 0.2147)" font-family="Liberation Serif" font-size="100">1</text><text transform="translate(515.89 769.28) scale(0.1889 0.2147)" font-family="Liberation Serif" font-size="100">1</text></g>
<g transform="rotate(-90)">
<clipPath id="c47"><text transform="translate(-613.35 31.30) scale(0.3977 0.3531)" font-family="Liberation Serif" font-size="100">P</text><text transform="translate(-613.35 30.61) scale(0.3977 0.3531)" font-family="Liberation Serif" font-size="100">P</text></clipPath>
<g clip-path="url(#c47)" fill="#000"><text transform="translate(-614.43 31.30) scale(0.3977 0.3531)" font-family="Liberation Serif" font-size="100">P</text><text transform="translate(-614.43 30.61) scale(0.3977 0.3531)" font-family="Liberation Serif" font-size="100">P</text></g>
<clipPath id="c48"><text transform="translate(-547.67 31.30) scale(0.4050 0.3531)" font-family="Liberation Serif" font-size="100">k</text><text transform="translate(-547.67 30.61) scale(0.4050 0.3531)" font-family="Liberation Serif" font-size="100">k</text></clipPath>
<g clip-path="url(#c48)" fill="#000"><text transform="translate(-548.75 31.30) scale(0.4050 0.3531)" font-family="Liberation Serif" font-size="100">k</text><text transform="translate(-548.75 30.61) scale(0.4050 0.3531)" font-family="Liberation Serif" font-size="100">k</text></g>
<clipPath id="c49"><text transform="translate(-471.20 31.30) scale(0.4022 0.3531)" font-family="Liberation Serif" font-size="100">b</text><text transform="translate(-471.20 30.61) scale(0.4022 0.3531)" font-family="Liberation Serif" font-size="100">b</text></clipPath>
<g clip-path="url(#c49)" fill="#000"><text transform="translate(-472.28 31.30) scale(0.4022 0.3531)" font-family="Liberation Serif" font-size="100">b</text><text transform="translate(-472.28 30.61) scale(0.4022 0.3531)" font-family="Liberation Serif" font-size="100">b</text></g>
<clipPath id="c50"><text transform="translate(-420.43 31.30) scale(0.3232 0.3531)" font-family="Liberation Serif" font-size="100">R</text><text transform="translate(-420.43 30.61) scale(0.3232 0.3531)" font-family="Liberation Serif" font-size="100">R</text></clipPath>
<g clip-path="url(#c50)" fill="#000"><text transform="translate(-421.51 31.30) scale(0.3232 0.3531)" font-family="Liberation Serif" font-size="100">R</text><text transform="translate(-421.51 30.61) scale(0.3232 0.3531)" font-family="Liberation Serif" font-size="100">R</text></g>
<clipPath id="c51"><text transform="translate(-352.08 31.30) scale(0.4080 0.3531)" font-family="Liberation Serif" font-size="100">P</text><text transform="translate(-352.08 30.61) scale(0.4080 0.3531)" font-family="Liberation Serif" font-size="100">P</text></clipPath>
<g clip-path="url(#c51)" fill="#000"><text transform="translate(-353.16 31.30) scale(0.4080 0.3531)" font-family="Liberation Serif" font-size="100">P</text><text transform="translate(-353.16 30.61) scale(0.4080 0.3531)" font-family="Liberation Serif" font-size="100">P</text></g>
<clipPath id="c52"><text transform="translate(-272.16 31.30) scale(0.3988 0.3531)" font-family="Liberation Serif" font-size="100">k</text><text transform="translate(-272.16 30.61) scale(0.3988 0.3531)" font-family="Liberation Serif" font-size="100">k</text></clipPath>
<g clip-path="url(#c52)" fill="#000"><text transform="translate(-273.24 31.30) scale(0.3988 0.3531)" font-family="Liberation Serif" font-size="100">k</text><text transform="translate(-273.24 30.61) scale(0.3988 0.3531)" font-family="Liberation Serif" font-size="100">k</text></g>
<clipPath id="c53"><text transform="translate(-211.54 31.30) scale(0.3248 0.3531)" font-family="Liberation Serif" font-size="100">R</text><text transform="translate(-211.54 30.61) scale(0.3248 0.3531)" font-family="Liberation Serif" font-size="100">R</text></clipPath>
<g clip-path="url(#c53)" fill="#000"><text transform="translate(-212.62 31.30) scale(0.3248 0.3531)" font-family="Liberation Serif" font-size="100">R</text><text transform="translate(-212.62 30.61) scale(0.3248 0.3531)" font-family="Liberation Serif" font-size="100">R</text></g>
<path d="M-549.70 3.80Q-568.60 21.00 -549.70 38.20" fill="none" stroke="#000" stroke-width="1.70"/>
<path d="M-522.80 3.80Q-508.10 21.00 -522.80 38.20" fill="none" stroke="#000" stroke-width="1.70"/>
<path d="M-509.80 37.80L-489.90 4.40" fill="none" stroke="#000" stroke-width="1.60"/>
<path d="M-476.50 4.05H-483.95V37.85H-476.50" fill="none" stroke="#000" stroke-width="1.70"/>
<path d="M-274.20 3.80Q-292.10 21.00 -274.20 38.20" fill="none" stroke="#000" stroke-width="1.70"/>
<path d="M-248.40 3.80Q-231.90 21.00 -248.40 38.20" fill="none" stroke="#000" stroke-width="1.70"/>
<path d="M-234.40 37.70L-214.90 4.20" fill="none" stroke="#000" stroke-width="1.60"/>
<path d="M-144.20 3.65H-136.65V37.55H-144.20" fill="none" stroke="#000" stroke-width="1.70"/>
<text transform="translate(-591.23 21.00) scale(0.2756 0.2200)" font-family="Liberation Serif" font-size="100" fill="#000">s</text>
<text transform="translate(-329.77 21.00) scale(0.2852 0.2200)" font-family="Liberation Serif" font-size="100" fill="#000">s</text>
<text transform="translate(-590.34 41.30) scale(0.2494 0.2200)" font-family="Liberation Serif" font-size="100" fill="#000">h</text>
<text transform="translate(-578.26 41.30) scale(0.2662 0.2200)" font-family="Liberation Serif" font-size="100" fill="#000">h</text>
<text transform="translate(-397.46 41.30) scale(0.2620 0.2200)" font-family="Liberation Serif" font-size="100" fill="#000">h</text>
<text transform="translate(-384.97 41.30) scale(0.2746 0.2200)" font-family="Liberation Serif" font-size="100" fill="#000">h</text>
<text transform="translate(-329.13 41.30) scale(0.2536 0.2200)" font-family="Liberation Serif" font-size="100" fill="#000">m</text>
<text transform="translate(-310.14 41.30) scale(0.2590 0.2200)" font-family="Liberation Serif" font-size="100" fill="#000">m</text>
<text transform="translate(-189.15 41.30) scale(0.2604 0.2200)" font-family="Liberation Serif" font-size="100" fill="#000">m</text>
<text transform="translate(-169.64 41.30) scale(0.2577 0.2200)" font-family="Liberation Serif" font-size="100" fill="#000">m</text>
<clipPath id="c54"><text transform="translate(-450.59 21.60) scale(0.2470 0.2246)" font-family="Liberation Serif" font-size="100">2</text><text transform="translate(-450.59 21.43) scale(0.2470 0.2246)" font-family="Liberation Serif" font-size="100">2</text></clipPath>
<g clip-path="url(#c54)" fill="#000"><text transform="translate(-450.79 21.60) scale(0.2470 0.2246)" font-family="Liberation Serif" font-size="100">2</text><text transform="translate(-450.79 21.43) scale(0.2470 0.2246)" font-family="Liberation Serif" font-size="100">2</text></g>
</g>
<clipPath id="c55"><text transform="translate(93.74 90.65) scale(0.2457 0.2599)" font-family="Liberation Serif" font-size="100">1</text><text transform="translate(93.74 90.14) scale(0.2457 0.2599)" font-family="Liberation Serif" font-size="100">1</text></clipPath>
<g clip-path="url(#c55)" fill="#000"><text transform="translate(93.49 90.65) scale(0.2457 0.2599)" font-family="Liberation Serif" font-size="100">1</text><text transform="translate(93.49 90.14) scale(0.2457 0.2599)" font-family="Liberation Serif" font-size="100">1</text></g>
<clipPath id="c56"><text transform="translate(107.76 90.65) scale(0.3554 0.2599)" font-family="Liberation Serif" font-size="100">.</text><text transform="translate(107.76 90.14) scale(0.3554 0.2599)" font-family="Liberation Serif" font-size="100">.</text></clipPath>
<g clip-path="url(#c56)" fill="#000"><text transform="translate(106.86 90.65) scale(0.3554 0.2599)" font-family="Liberation Serif" font-size="100">.</text><text transform="translate(106.86 90.14) scale(0.3554 0.2599)" font-family="Liberation Serif" font-size="100">.</text></g>
<clipPath id="c57"><text transform="translate(115.37 90.65) scale(0.3401 0.2630)" font-family="Liberation Serif" font-size="100">5</text><text transform="translate(115.37 90.45) scale(0.3401 0.2630)" font-family="Liberation Serif" font-size="100">5</text></clipPath>
<g clip-path="url(#c57)" fill="#000"><text transform="translate(114.47 90.65) scale(0.3401 0.2630)" font-family="Liberation Serif" font-size="100">5</text><text transform="translate(114.47 90.45) scale(0.3401 0.2630)" font-family="Liberation Serif" font-size="100">5</text></g>
<clipPath id="c58"><text transform="translate(117.74 188.00) scale(0.2457 0.2599)" font-family="Liberation Serif" font-size="100">1</text><text transform="translate(117.74 187.49) scale(0.2457 0.2599)" font-family="Liberation Serif" font-size="100">1</text></clipPath>
<g clip-path="url(#c58)" fill="#000"><text transform="translate(117.49 188.00) scale(0.2457 0.2599)" font-family="Liberation Serif" font-size="100">1</text><text transform="translate(117.49 187.49) scale(0.2457 0.2599)" font-family="Liberation Serif" font-size="100">1</text></g>
<clipPath id="c59"><text transform="translate(77.74 249.76) scale(0.2457 0.2599)" font-family="Liberation Serif" font-size="100">1</text><text transform="translate(77.74 249.25) scale(0.2457 0.2599)" font-family="Liberation Serif" font-size="100">1</text></clipPath>
<g clip-path="url(#c59)" fill="#000"><text transform="translate(77.49 249.76) scale(0.2457 0.2599)" font-family="Liberation Serif" font-size="100">1</text><text transform="translate(77.49 249.25) scale(0.2457 0.2599)" font-family="Liberation Serif" font-size="100">1</text></g>
<clipPath id="c60"><text transform="translate(91.76 249.76) scale(0.3554 0.2599)" font-family="Liberation Serif" font-size="100">.</text><text transform="translate(91.76 249.25) scale(0.3554 0.2599)" font-family="Liberation Serif" font-size="100">.</text></clipPath>
<g clip-path="url(#c60)" fill="#000"><text transform="translate(90.86 249.76) scale(0.3554 0.2599)" font-family="Liberation Serif" font-size="100">.</text><text transform="translate(90.86 249.25) scale(0.3554 0.2599)" font-family="Liberation Serif" font-size="100">.</text></g>
<clipPath id="c61"><text transform="translate(101.74 249.76) scale(0.2457 0.2599)" font-family="Liberation Serif" font-size="100">1</text><text transform="translate(101.74 249.25) scale(0.2457 0.2599)" font-family="Liberation Serif" font-size="100">1</text></clipPath>
<g clip-path="url(#c61)" fill="#000"><text transform="translate(101.49 249.76) scale(0.2457 0.2599)" font-family="Liberation Serif" font-size="100">1</text><text transform="translate(101.49 249.25) scale(0.2457 0.2599)" font-family="Liberation Serif" font-size="100">1</text></g>
<clipPath id="c62"><text transform="translate(115.37 249.76) scale(0.3401 0.2630)" font-family="Liberation Serif" font-size="100">5</text><text transform="translate(115.37 249.55) scale(0.3401 0.2630)" font-family="Liberation Serif" font-size="100">5</text></clipPath>
<g clip-path="url(#c62)" fill="#000"><text transform="translate(114.47 249.76) scale(0.3401 0.2630)" font-family="Liberation Serif" font-size="100">5</text><text transform="translate(114.47 249.55) scale(0.3401 0.2630)" font-family="Liberation Serif" font-size="100">5</text></g>
<clipPath id="c63"><text transform="translate(93.74 282.97) scale(0.2457 0.2599)" font-family="Liberation Serif" font-size="100">1</text><text transform="translate(93.74 282.46) scale(0.2457 0.2599)" font-family="Liberation Serif" font-size="100">1</text></clipPath>
<g clip-path="url(#c63)" fill="#000"><text transform="translate(93.49 282.97) scale(0.2457 0.2599)" font-family="Liberation Serif" font-size="100">1</text><text transform="translate(93.49 282.46) scale(0.2457 0.2599)" font-family="Liberation Serif" font-size="100">1</text></g>
<clipPath id="c64"><text transform="translate(107.76 282.97) scale(0.3554 0.2599)" font-family="Liberation Serif" font-size="100">.</text><text transform="translate(107.76 282.46) scale(0.3554 0.2599)" font-family="Liberation Serif" font-size="100">.</text></clipPath>
<g clip-path="url(#c64)" fill="#000"><text transform="translate(106.86 282.97) scale(0.3554 0.2599)" font-family="Liberation Serif" font-size="100">.</text><text transform="translate(106.86 282.46) scale(0.3554 0.2599)" font-family="Liberation Serif" font-size="100">.</text></g>
<clipPath id="c65"><text transform="translate(117.74 282.97) scale(0.2457 0.2599)" font-family="Liberation Serif" font-size="100">1</text><text transform="translate(117.74 282.46) scale(0.2457 0.2599)" font-family="Liberation Serif" font-size="100">1</text></clipPath>
<g clip-path="url(#c65)" fill="#000"><text transform="translate(117.49 282.97) scale(0.2457 0.2599)" font-family="Liberation Serif" font-size="100">1</text><text transform="translate(117.49 282.46) scale(0.2457 0.2599)" font-family="Liberation Serif" font-size="100">1</text></g>
<clipPath id="c66"><text transform="translate(77.74 316.18) scale(0.2457 0.2599)" font-family="Liberation Serif" font-size="100">1</text><text transform="translate(77.74 315.68) scale(0.2457 0.2599)" font-family="Liberation Serif" font-size="100">1</text></clipPath>
<g clip-path="url(#c66)" fill="#000"><text transform="translate(77.49 316.18) scale(0.2457 0.2599)" font-family="Liberation Serif" font-size="100">1</text><text transform="translate(77.49 315.68) scale(0.2457 0.2599)" font-family="Liberation Serif" font-size="100">1</text></g>
<clipPath id="c67"><text transform="translate(91.76 316.18) scale(0.3554 0.2599)" font-family="Liberation Serif" font-size="100">.</text><text transform="translate(91.76 315.68) scale(0.3554 0.2599)" font-family="Liberation Serif" font-size="100">.</text></clipPath>
<g clip-path="url(#c67)" fill="#000"><text transform="translate(90.86 316.18) scale(0.3554 0.2599)" font-family="Liberation Serif" font-size="100">.</text><text transform="translate(90.86 315.68) scale(0.3554 0.2599)" font-family="Liberation Serif" font-size="100">.</text></g>
<clipPath id="c68"><text transform="translate(100.16 316.18) scale(0.3374 0.2599)" font-family="Liberation Serif" font-size="100">0</text><text transform="translate(100.16 315.68) scale(0.3374 0.2599)" font-family="Liberation Serif" font-size="100">0</text></clipPath>
<g clip-path="url(#c68)" fill="#000"><text transform="translate(99.26 316.18) scale(0.3374 0.2599)" font-family="Liberation Serif" font-size="100">0</text><text transform="translate(99.26 315.68) scale(0.3374 0.2599)" font-family="Liberation Serif" font-size="100">0</text></g>
<clipPath id="c69"><text transform="translate(115.37 316.18) scale(0.3401 0.2630)" font-family="Liberation Serif" font-size="100">5</text><text transform="translate(115.37 315.98) scale(0.3401 0.2630)" font-family="Liberation Serif" font-size="100">5</text></clipPath>
<g clip-path="url(#c69)" fill="#000"><text transform="translate(114.47 316.18) scale(0.3401 0.2630)" font-family="Liberation Serif" font-size="100">5</text><text transform="translate(114.47 315.98) scale(0.3401 0.2630)" font-family="Liberation Serif" font-size="100">5</text></g>
<clipPath id="c70"><text transform="translate(117.74 349.40) scale(0.2457 0.2599)" font-family="Liberation Serif" font-size="100">1</text><text transform="translate(117.74 348.89) scale(0.2457 0.2599)" font-family="Liberation Serif" font-size="100">1</text></clipPath>
<g clip-path="url(#c70)" fill="#000"><text transform="translate(117.49 349.40) scale(0.2457 0.2599)" font-family="Liberation Serif" font-size="100">1</text><text transform="translate(117.49 348.89) scale(0.2457 0.2599)" font-family="Liberation Serif" font-size="100">1</text></g>
<clipPath id="c71"><text transform="translate(76.16 382.62) scale(0.3374 0.2599)" font-family="Liberation Serif" font-size="100">0</text><text transform="translate(76.16 382.11) scale(0.3374 0.2599)" font-family="Liberation Serif" font-size="100">0</text></clipPath>
<g clip-path="url(#c71)" fill="#000"><text transform="translate(75.26 382.62) scale(0.3374 0.2599)" font-family="Liberation Serif" font-size="100">0</text><text transform="translate(75.26 382.11) scale(0.3374 0.2599)" font-family="Liberation Serif" font-size="100">0</text></g>
<clipPath id="c72"><text transform="translate(91.76 382.62) scale(0.3554 0.2599)" font-family="Liberation Serif" font-size="100">.</text><text transform="translate(91.76 382.11) scale(0.3554 0.2599)" font-family="Liberation Serif" font-size="100">.</text></clipPath>
<g clip-path="url(#c72)" fill="#000"><text transform="translate(90.86 382.62) scale(0.3554 0.2599)" font-family="Liberation Serif" font-size="100">.</text><text transform="translate(90.86 382.11) scale(0.3554 0.2599)" font-family="Liberation Serif" font-size="100">.</text></g>
<clipPath id="c73"><text transform="translate(100.17 382.62) scale(0.3210 0.2599)" font-family="Liberation Serif" font-size="100">9</text><text transform="translate(100.17 382.11) scale(0.3210 0.2599)" font-family="Liberation Serif" font-size="100">9</text></clipPath>
<g clip-path="url(#c73)" fill="#000"><text transform="translate(99.27 382.62) scale(0.3210 0.2599)" font-family="Liberation Serif" font-size="100">9</text><text transform="translate(99.27 382.11) scale(0.3210 0.2599)" font-family="Liberation Serif" font-size="100">9</text></g>
<clipPath id="c74"><text transform="translate(115.37 382.62) scale(0.3401 0.2630)" font-family="Liberation Serif" font-size="100">5</text><text transform="translate(115.37 382.41) scale(0.3401 0.2630)" font-family="Liberation Serif" font-size="100">5</text></clipPath>
<g clip-path="url(#c74)" fill="#000"><text transform="translate(114.47 382.62) scale(0.3401 0.2630)" font-family="Liberation Serif" font-size="100">5</text><text transform="translate(114.47 382.41) scale(0.3401 0.2630)" font-family="Liberation Serif" font-size="100">5</text></g>
<clipPath id="c75"><text transform="translate(77.74 436.97) scale(0.2457 0.2599)" font-family="Liberation Serif" font-size="100">1</text><text transform="translate(77.74 436.46) scale(0.2457 0.2599)" font-family="Liberation Serif" font-size="100">1</text></clipPath>
<g clip-path="url(#c75)" fill="#000"><text transform="translate(77.49 436.97) scale(0.2457 0.2599)" font-family="Liberation Serif" font-size="100">1</text><text transform="translate(77.49 436.46) scale(0.2457 0.2599)" font-family="Liberation Serif" font-size="100">1</text></g>
<clipPath id="c76"><text transform="translate(91.76 436.97) scale(0.3554 0.2599)" font-family="Liberation Serif" font-size="100">.</text><text transform="translate(91.76 436.46) scale(0.3554 0.2599)" font-family="Liberation Serif" font-size="100">.</text></clipPath>
<g clip-path="url(#c76)" fill="#000"><text transform="translate(90.86 436.97) scale(0.3554 0.2599)" font-family="Liberation Serif" font-size="100">.</text><text transform="translate(90.86 436.46) scale(0.3554 0.2599)" font-family="Liberation Serif" font-size="100">.</text></g>
<clipPath id="c77"><text transform="translate(100.16 436.97) scale(0.3374 0.2599)" font-family="Liberation Serif" font-size="100">0</text><text transform="translate(100.16 436.46) scale(0.3374 0.2599)" font-family="Liberation Serif" font-size="100">0</text></clipPath>
<g clip-path="url(#c77)" fill="#000"><text transform="translate(99.26 436.97) scale(0.3374 0.2599)" font-family="Liberation Serif" font-size="100">0</text><text transform="translate(99.26 436.46) scale(0.3374 0.2599)" font-family="Liberation Serif" font-size="100">0</text></g>
<clipPath id="c78"><text transform="translate(115.37 436.97) scale(0.3401 0.2630)" font-family="Liberation Serif" font-size="100">5</text><text transform="translate(115.37 436.77) scale(0.3401 0.2630)" font-family="Liberation Serif" font-size="100">5</text></clipPath>
<g clip-path="url(#c78)" fill="#000"><text transform="translate(114.47 436.97) scale(0.3401 0.2630)" font-family="Liberation Serif" font-size="100">5</text><text transform="translate(114.47 436.77) scale(0.3401 0.2630)" font-family="Liberation Serif" font-size="100">5</text></g>
<clipPath id="c79"><text transform="translate(117.74 492.45) scale(0.2457 0.2599)" font-family="Liberation Serif" font-size="100">1</text><text transform="translate(117.74 491.94) scale(0.2457 0.2599)" font-family="Liberation Serif" font-size="100">1</text></clipPath>
<g clip-path="url(#c79)" fill="#000"><text transform="translate(117.49 492.45) scale(0.2457 0.2599)" font-family="Liberation Serif" font-size="100">1</text><text transform="translate(117.49 491.94) scale(0.2457 0.2599)" font-family="Liberation Serif" font-size="100">1</text></g>
<clipPath id="c80"><text transform="translate(76.16 547.93) scale(0.3374 0.2599)" font-family="Liberation Serif" font-size="100">0</text><text transform="translate(76.16 547.42) scale(0.3374 0.2599)" font-family="Liberation Serif" font-size="100">0</text></clipPath>
<g clip-path="url(#c80)" fill="#000"><text transform="translate(75.26 547.93) scale(0.3374 0.2599)" font-family="Liberation Serif" font-size="100">0</text><text transform="translate(75.26 547.42) scale(0.3374 0.2599)" font-family="Liberation Serif" font-size="100">0</text></g>
<clipPath id="c81"><text transform="translate(91.76 547.93) scale(0.3554 0.2599)" font-family="Liberation Serif" font-size="100">.</text><text transform="translate(91.76 547.42) scale(0.3554 0.2599)" font-family="Liberation Serif" font-size="100">.</text></clipPath>
<g clip-path="url(#c81)" fill="#000"><text transform="translate(90.86 547.93) scale(0.3554 0.2599)" font-family="Liberation Serif" font-size="100">.</text><text transform="translate(90.86 547.42) scale(0.3554 0.2599)" font-family="Liberation Serif" font-size="100">.</text></g>
<clipPath id="c82"><text transform="translate(100.17 547.93) scale(0.3210 0.2599)" font-family="Liberation Serif" font-size="100">9</text><text transform="translate(100.17 547.42) scale(0.3210 0.2599)" font-family="Liberation Serif" font-size="100">9</text></clipPath>
<g clip-path="url(#c82)" fill="#000"><text transform="translate(99.27 547.93) scale(0.3210 0.2599)" font-family="Liberation Serif" font-size="100">9</text><text transform="translate(99.27 547.42) scale(0.3210 0.2599)" font-family="Liberation Serif" font-size="100">9</text></g>
<clipPath id="c83"><text transform="translate(115.37 547.93) scale(0.3401 0.2630)" font-family="Liberation Serif" font-size="100">5</text><text transform="translate(115.37 547.73) scale(0.3401 0.2630)" font-family="Liberation Serif" font-size="100">5</text></clipPath>
<g clip-path="url(#c83)" fill="#000"><text transform="translate(114.47 547.93) scale(0.3401 0.2630)" font-family="Liberation Serif" font-size="100">5</text><text transform="translate(114.47 547.73) scale(0.3401 0.2630)" font-family="Liberation Serif" font-size="100">5</text></g>
<clipPath id="c84"><text transform="translate(77.74 602.40) scale(0.2457 0.2599)" font-family="Liberation Serif" font-size="100">1</text><text transform="translate(77.74 601.89) scale(0.2457 0.2599)" font-family="Liberation Serif" font-size="100">1</text></clipPath>
<g clip-path="url(#c84)" fill="#000"><text transform="translate(77.49 602.40) scale(0.2457 0.2599)" font-family="Liberation Serif" font-size="100">1</text><text transform="translate(77.49 601.89) scale(0.2457 0.2599)" font-family="Liberation Serif" font-size="100">1</text></g>
<clipPath id="c85"><text transform="translate(91.76 602.40) scale(0.3554 0.2599)" font-family="Liberation Serif" font-size="100">.</text><text transform="translate(91.76 601.89) scale(0.3554 0.2599)" font-family="Liberation Serif" font-size="100">.</text></clipPath>
<g clip-path="url(#c85)" fill="#000"><text transform="translate(90.86 602.40) scale(0.3554 0.2599)" font-family="Liberation Serif" font-size="100">.</text><text transform="translate(90.86 601.89) scale(0.3554 0.2599)" font-family="Liberation Serif" font-size="100">.</text></g>
<clipPath id="c86"><text transform="translate(100.16 602.40) scale(0.3374 0.2599)" font-family="Liberation Serif" font-size="100">0</text><text transform="translate(100.16 601.89) scale(0.3374 0.2599)" font-family="Liberation Serif" font-size="100">0</text></clipPath>
<g clip-path="url(#c86)" fill="#000"><text transform="translate(99.26 602.40) scale(0.3374 0.2599)" font-family="Liberation Serif" font-size="100">0</text><text transform="translate(99.26 601.89) scale(0.3374 0.2599)" font-family="Liberation Serif" font-size="100">0</text></g>
<clipPath id="c87"><text transform="translate(115.37 602.40) scale(0.3401 0.2630)" font-family="Liberation Serif" font-size="100">5</text><text transform="translate(115.37 602.20) scale(0.3401 0.2630)" font-family="Liberation Serif" font-size="100">5</text></clipPath>
<g clip-path="url(#c87)" fill="#000"><text transform="translate(114.47 602.40) scale(0.3401 0.2630)" font-family="Liberation Serif" font-size="100">5</text><text transform="translate(114.47 602.20) scale(0.3401 0.2630)" font-family="Liberation Serif" font-size="100">5</text></g>
<clipPath id="c88"><text transform="translate(117.74 657.90) scale(0.2457 0.2599)" font-family="Liberation Serif" font-size="100">1</text><text transform="translate(117.74 657.39) scale(0.2457 0.2599)" font-family="Liberation Serif" font-size="100">1</text></clipPath>
<g clip-path="url(#c88)" fill="#000"><text transform="translate(117.49 657.90) scale(0.2457 0.2599)" font-family="Liberation Serif" font-size="100">1</text><text transform="translate(117.49 657.39) scale(0.2457 0.2599)" font-family="Liberation Serif" font-size="100">1</text></g>
<clipPath id="c89"><text transform="translate(76.16 713.40) scale(0.3374 0.2599)" font-family="Liberation Serif" font-size="100">0</text><text transform="translate(76.16 712.89) scale(0.3374 0.2599)" font-family="Liberation Serif" font-size="100">0</text></clipPath>
<g clip-path="url(#c89)" fill="#000"><text transform="translate(75.26 713.40) scale(0.3374 0.2599)" font-family="Liberation Serif" font-size="100">0</text><text transform="translate(75.26 712.89) scale(0.3374 0.2599)" font-family="Liberation Serif" font-size="100">0</text></g>
<clipPath id="c90"><text transform="translate(91.76 713.40) scale(0.3554 0.2599)" font-family="Liberation Serif" font-size="100">.</text><text transform="translate(91.76 712.89) scale(0.3554 0.2599)" font-family="Liberation Serif" font-size="100">.</text></clipPath>
<g clip-path="url(#c90)" fill="#000"><text transform="translate(90.86 713.40) scale(0.3554 0.2599)" font-family="Liberation Serif" font-size="100">.</text><text transform="translate(90.86 712.89) scale(0.3554 0.2599)" font-family="Liberation Serif" font-size="100">.</text></g>
<clipPath id="c91"><text transform="translate(100.17 713.40) scale(0.3210 0.2599)" font-family="Liberation Serif" font-size="100">9</text><text transform="translate(100.17 712.89) scale(0.3210 0.2599)" font-family="Liberation Serif" font-size="100">9</text></clipPath>
<g clip-path="url(#c91)" fill="#000"><text transform="translate(99.27 713.40) scale(0.3210 0.2599)" font-family="Liberation Serif" font-size="100">9</text><text transform="translate(99.27 712.89) scale(0.3210 0.2599)" font-family="Liberation Serif" font-size="100">9</text></g>
<clipPath id="c92"><text transform="translate(115.37 713.40) scale(0.3401 0.2630)" font-family="Liberation Serif" font-size="100">5</text><text transform="translate(115.37 713.20) scale(0.3401 0.2630)" font-family="Liberation Serif" font-size="100">5</text></clipPath>
<g clip-path="url(#c92)" fill="#000"><text transform="translate(114.47 713.40) scale(0.3401 0.2630)" font-family="Liberation Serif" font-size="100">5</text><text transform="translate(114.47 713.20) scale(0.3401 0.2630)" font-family="Liberation Serif" font-size="100">5</text></g>
<clipPath id="c93"><text transform="translate(138.46 736.20) scale(0.3374 0.2599)" font-family="Liberation Serif" font-size="100">0</text><text transform="translate(138.46 735.69) scale(0.3374 0.2599)" font-family="Liberation Serif" font-size="100">0</text></clipPath>
<g clip-path="url(#c93)" fill="#000"><text transform="translate(137.56 736.20) scale(0.3374 0.2599)" font-family="Liberation Serif" font-size="100">0</text><text transform="translate(137.56 735.69) scale(0.3374 0.2599)" font-family="Liberation Serif" font-size="100">0</text></g>
<clipPath id="c94"><text transform="translate(204.40 736.20) scale(0.3374 0.2599)" font-family="Liberation Serif" font-size="100">0</text><text transform="translate(204.40 735.69) scale(0.3374 0.2599)" font-family="Liberation Serif" font-size="100">0</text></clipPath>
<g clip-path="url(#c94)" fill="#000"><text transform="translate(203.50 736.20) scale(0.3374 0.2599)" font-family="Liberation Serif" font-size="100">0</text><text transform="translate(203.50 735.69) scale(0.3374 0.2599)" font-family="Liberation Serif" font-size="100">0</text></g>
<clipPath id="c95"><text transform="translate(219.99 736.20) scale(0.3554 0.2599)" font-family="Liberation Serif" font-size="100">.</text><text transform="translate(219.99 735.69) scale(0.3554 0.2599)" font-family="Liberation Serif" font-size="100">.</text></clipPath>
<g clip-path="url(#c95)" fill="#000"><text transform="translate(219.09 736.20) scale(0.3554 0.2599)" font-family="Liberation Serif" font-size="100">.</text><text transform="translate(219.09 735.69) scale(0.3554 0.2599)" font-family="Liberation Serif" font-size="100">.</text></g>
<clipPath id="c96"><text transform="translate(228.40 736.20) scale(0.3374 0.2599)" font-family="Liberation Serif" font-size="100">0</text><text transform="translate(228.40 735.69) scale(0.3374 0.2599)" font-family="Liberation Serif" font-size="100">0</text></clipPath>
<g clip-path="url(#c96)" fill="#000"><text transform="translate(227.50 736.20) scale(0.3374 0.2599)" font-family="Liberation Serif" font-size="100">0</text><text transform="translate(227.50 735.69) scale(0.3374 0.2599)" font-family="Liberation Serif" font-size="100">0</text></g>
<clipPath id="c97"><text transform="translate(243.61 736.20) scale(0.3401 0.2630)" font-family="Liberation Serif" font-size="100">5</text><text transform="translate(243.61 736.00) scale(0.3401 0.2630)" font-family="Liberation Serif" font-size="100">5</text></clipPath>
<g clip-path="url(#c97)" fill="#000"><text transform="translate(242.71 736.20) scale(0.3401 0.2630)" font-family="Liberation Serif" font-size="100">5</text><text transform="translate(242.71 736.00) scale(0.3401 0.2630)" font-family="Liberation Serif" font-size="100">5</text></g>
<clipPath id="c98"><text transform="translate(298.34 736.20) scale(0.3374 0.2599)" font-family="Liberation Serif" font-size="100">0</text><text transform="translate(298.34 735.69) scale(0.3374 0.2599)" font-family="Liberation Serif" font-size="100">0</text></clipPath>
<g clip-path="url(#c98)" fill="#000"><text transform="translate(297.44 736.20) scale(0.3374 0.2599)" font-family="Liberation Serif" font-size="100">0</text><text transform="translate(297.44 735.69) scale(0.3374 0.2599)" font-family="Liberation Serif" font-size="100">0</text></g>
<clipPath id="c99"><text transform="translate(313.93 736.20) scale(0.3554 0.2599)" font-family="Liberation Serif" font-size="100">.</text><text transform="translate(313.93 735.69) scale(0.3554 0.2599)" font-family="Liberation Serif" font-size="100">.</text></clipPath>
<g clip-path="url(#c99)" fill="#000"><text transform="translate(313.03 736.20) scale(0.3554 0.2599)" font-family="Liberation Serif" font-size="100">.</text><text transform="translate(313.03 735.69) scale(0.3554 0.2599)" font-family="Liberation Serif" font-size="100">.</text></g>
<clipPath id="c100"><text transform="translate(323.91 736.20) scale(0.2457 0.2599)" font-family="Liberation Serif" font-size="100">1</text><text transform="translate(323.91 735.69) scale(0.2457 0.2599)" font-family="Liberation Serif" font-size="100">1</text></clipPath>
<g clip-path="url(#c100)" fill="#000"><text transform="translate(323.66 736.20) scale(0.2457 0.2599)" font-family="Liberation Serif" font-size="100">1</text><text transform="translate(323.66 735.69) scale(0.2457 0.2599)" font-family="Liberation Serif" font-size="100">1</text></g>
<clipPath id="c101"><text transform="translate(376.27 736.20) scale(0.3374 0.2599)" font-family="Liberation Serif" font-size="100">0</text><text transform="translate(376.27 735.69) scale(0.3374 0.2599)" font-family="Liberation Serif" font-size="100">0</text></clipPath>
<g clip-path="url(#c101)" fill="#000"><text transform="translate(375.37 736.20) scale(0.3374 0.2599)" font-family="Liberation Serif" font-size="100">0</text><text transform="translate(375.37 735.69) scale(0.3374 0.2599)" font-family="Liberation Serif" font-size="100">0</text></g>
<clipPath id="c102"><text transform="translate(391.86 736.20) scale(0.3554 0.2599)" font-family="Liberation Serif" font-size="100">.</text><text transform="translate(391.86 735.69) scale(0.3554 0.2599)" font-family="Liberation Serif" font-size="100">.</text></clipPath>
<g clip-path="url(#c102)" fill="#000"><text transform="translate(390.96 736.20) scale(0.3554 0.2599)" font-family="Liberation Serif" font-size="100">.</text><text transform="translate(390.96 735.69) scale(0.3554 0.2599)" font-family="Liberation Serif" font-size="100">.</text></g>
<clipPath id="c103"><text transform="translate(401.85 736.20) scale(0.2457 0.2599)" font-family="Liberation Serif" font-size="100">1</text><text transform="translate(401.85 735.69) scale(0.2457 0.2599)" font-family="Liberation Serif" font-size="100">1</text></clipPath>
<g clip-path="url(#c103)" fill="#000"><text transform="translate(401.60 736.20) scale(0.2457 0.2599)" font-family="Liberation Serif" font-size="100">1</text><text transform="translate(401.60 735.69) scale(0.2457 0.2599)" font-family="Liberation Serif" font-size="100">1</text></g>
<clipPath id="c104"><text transform="translate(415.48 736.20) scale(0.3401 0.2630)" font-family="Liberation Serif" font-size="100">5</text><text transform="translate(415.48 736.00) scale(0.3401 0.2630)" font-family="Liberation Serif" font-size="100">5</text></clipPath>
<g clip-path="url(#c104)" fill="#000"><text transform="translate(414.58 736.20) scale(0.3401 0.2630)" font-family="Liberation Serif" font-size="100">5</text><text transform="translate(414.58 736.00) scale(0.3401 0.2630)" font-family="Liberation Serif" font-size="100">5</text></g>
<clipPath id="c105"><text transform="translate(470.21 736.20) scale(0.3374 0.2599)" font-family="Liberation Serif" font-size="100">0</text><text transform="translate(470.21 735.69) scale(0.3374 0.2599)" font-family="Liberation Serif" font-size="100">0</text></clipPath>
<g clip-path="url(#c105)" fill="#000"><text transform="translate(469.31 736.20) scale(0.3374 0.2599)" font-family="Liberation Serif" font-size="100">0</text><text transform="translate(469.31 735.69) scale(0.3374 0.2599)" font-family="Liberation Serif" font-size="100">0</text></g>
<clipPath id="c106"><text transform="translate(485.80 736.20) scale(0.3554 0.2599)" font-family="Liberation Serif" font-size="100">.</text><text transform="translate(485.80 735.69) scale(0.3554 0.2599)" font-family="Liberation Serif" font-size="100">.</text></clipPath>
<g clip-path="url(#c106)" fill="#000"><text transform="translate(484.90 736.20) scale(0.3554 0.2599)" font-family="Liberation Serif" font-size="100">.</text><text transform="translate(484.90 735.69) scale(0.3554 0.2599)" font-family="Liberation Serif" font-size="100">.</text></g>
<clipPath id="c107"><text transform="translate(493.49 736.20) scale(0.3542 0.2630)" font-family="Liberation Serif" font-size="100">2</text><text transform="translate(493.49 736.00) scale(0.3542 0.2630)" font-family="Liberation Serif" font-size="100">2</text></clipPath>
<g clip-path="url(#c107)" fill="#000"><text transform="translate(492.59 736.20) scale(0.3542 0.2630)" font-family="Liberation Serif" font-size="100">2</text><text transform="translate(492.59 736.00) scale(0.3542 0.2630)" font-family="Liberation Serif" font-size="100">2</text></g>
<clipPath id="c108"><text transform="translate(548.14 736.20) scale(0.3374 0.2599)" font-family="Liberation Serif" font-size="100">0</text><text transform="translate(548.14 735.69) scale(0.3374 0.2599)" font-family="Liberation Serif" font-size="100">0</text></clipPath>
<g clip-path="url(#c108)" fill="#000"><text transform="translate(547.24 736.20) scale(0.3374 0.2599)" font-family="Liberation Serif" font-size="100">0</text><text transform="translate(547.24 735.69) scale(0.3374 0.2599)" font-family="Liberation Serif" font-size="100">0</text></g>
<clipPath id="c109"><text transform="translate(563.74 736.20) scale(0.3554 0.2599)" font-family="Liberation Serif" font-size="100">.</text><text transform="translate(563.74 735.69) scale(0.3554 0.2599)" font-family="Liberation Serif" font-size="100">.</text></clipPath>
<g clip-path="url(#c109)" fill="#000"><text transform="translate(562.84 736.20) scale(0.3554 0.2599)" font-family="Liberation Serif" font-size="100">.</text><text transform="translate(562.84 735.69) scale(0.3554 0.2599)" font-family="Liberation Serif" font-size="100">.</text></g>
<clipPath id="c110"><text transform="translate(571.42 736.20) scale(0.3542 0.2630)" font-family="Liberation Serif" font-size="100">2</text><text transform="translate(571.42 736.00) scale(0.3542 0.2630)" font-family="Liberation Serif" font-size="100">2</text></clipPath>
<g clip-path="url(#c110)" fill="#000"><text transform="translate(570.52 736.20) scale(0.3542 0.2630)" font-family="Liberation Serif" font-size="100">2</text><text transform="translate(570.52 736.00) scale(0.3542 0.2630)" font-family="Liberation Serif" font-size="100">2</text></g>
<clipPath id="c111"><text transform="translate(587.35 736.20) scale(0.3401 0.2630)" font-family="Liberation Serif" font-size="100">5</text><text transform="translate(587.35 736.00) scale(0.3401 0.2630)" font-family="Liberation Serif" font-size="100">5</text></clipPath>
<g clip-path="url(#c111)" fill="#000"><text transform="translate(586.45 736.20) scale(0.3401 0.2630)" font-family="Liberation Serif" font-size="100">5</text><text transform="translate(586.45 736.00) scale(0.3401 0.2630)" font-family="Liberation Serif" font-size="100">5</text></g>
<clipPath id="c112"><text transform="translate(642.08 736.20) scale(0.3374 0.2599)" font-family="Liberation Serif" font-size="100">0</text><text transform="translate(642.08 735.69) scale(0.3374 0.2599)" font-family="Liberation Serif" font-size="100">0</text></clipPath>
<g clip-path="url(#c112)" fill="#000"><text transform="translate(641.18 736.20) scale(0.3374 0.2599)" font-family="Liberation Serif" font-size="100">0</text><text transform="translate(641.18 735.69) scale(0.3374 0.2599)" font-family="Liberation Serif" font-size="100">0</text></g>
<clipPath id="c113"><text transform="translate(657.67 736.20) scale(0.3554 0.2599)" font-family="Liberation Serif" font-size="100">.</text><text transform="translate(657.67 735.69) scale(0.3554 0.2599)" font-family="Liberation Serif" font-size="100">.</text></clipPath>
<g clip-path="url(#c113)" fill="#000"><text transform="translate(656.77 736.20) scale(0.3554 0.2599)" font-family="Liberation Serif" font-size="100">.</text><text transform="translate(656.77 735.69) scale(0.3554 0.2599)" font-family="Liberation Serif" font-size="100">.</text></g>
<clipPath id="c114"><text transform="translate(665.62 736.20) scale(0.3220 0.2599)" font-family="Liberation Serif" font-size="100">3</text><text transform="translate(665.62 735.69) scale(0.3220 0.2599)" font-family="Liberation Serif" font-size="100">3</text></clipPath>
<g clip-path="url(#c114)" fill="#000"><text transform="translate(664.72 736.20) scale(0.3220 0.2599)" font-family="Liberation Serif" font-size="100">3</text><text transform="translate(664.72 735.69) scale(0.3220 0.2599)" font-family="Liberation Serif" font-size="100">3</text></g>
<clipPath id="c115"><text transform="translate(720.01 736.20) scale(0.3374 0.2599)" font-family="Liberation Serif" font-size="100">0</text><text transform="translate(720.01 735.69) scale(0.3374 0.2599)" font-family="Liberation Serif" font-size="100">0</text></clipPath>
<g clip-path="url(#c115)" fill="#000"><text transform="translate(719.11 736.20) scale(0.3374 0.2599)" font-family="Liberation Serif" font-size="100">0</text><text transform="translate(719.11 735.69) scale(0.3374 0.2599)" font-family="Liberation Serif" font-size="100">0</text></g>
<clipPath id="c116"><text transform="translate(735.61 736.20) scale(0.3554 0.2599)" font-family="Liberation Serif" font-size="100">.</text><text transform="translate(735.61 735.69) scale(0.3554 0.2599)" font-family="Liberation Serif" font-size="100">.</text></clipPath>
<g clip-path="url(#c116)" fill="#000"><text transform="translate(734.71 736.20) scale(0.3554 0.2599)" font-family="Liberation Serif" font-size="100">.</text><text transform="translate(734.71 735.69) scale(0.3554 0.2599)" font-family="Liberation Serif" font-size="100">.</text></g>
<clipPath id="c117"><text transform="translate(743.56 736.20) scale(0.3220 0.2599)" font-family="Liberation Serif" font-size="100">3</text><text transform="translate(743.56 735.69) scale(0.3220 0.2599)" font-family="Liberation Serif" font-size="100">3</text></clipPath>
<g clip-path="url(#c117)" fill="#000"><text transform="translate(742.66 736.20) scale(0.3220 0.2599)" font-family="Liberation Serif" font-size="100">3</text><text transform="translate(742.66 735.69) scale(0.3220 0.2599)" font-family="Liberation Serif" font-size="100">3</text></g>
<clipPath id="c118"><text transform="translate(759.22 736.20) scale(0.3401 0.2630)" font-family="Liberation Serif" font-size="100">5</text><text transform="translate(759.22 736.00) scale(0.3401 0.2630)" font-family="Liberation Serif" font-size="100">5</text></clipPath>
<g clip-path="url(#c118)" fill="#000"><text transform="translate(758.32 736.20) scale(0.3401 0.2630)" font-family="Liberation Serif" font-size="100">5</text><text transform="translate(758.32 736.00) scale(0.3401 0.2630)" font-family="Liberation Serif" font-size="100">5</text></g>
</svg>
</body></html>
